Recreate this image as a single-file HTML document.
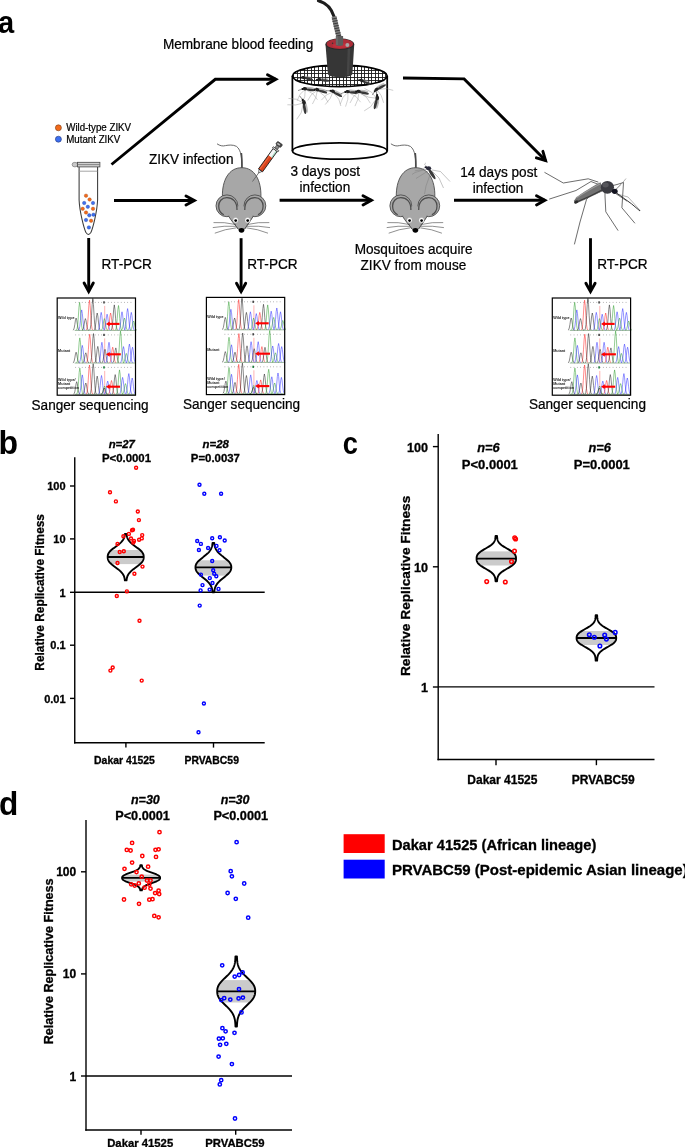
<!DOCTYPE html>
<html><head><meta charset="utf-8"><title>Figure</title>
<style>
html,body{margin:0;padding:0;background:#fff;overflow:hidden;}
svg{display:block;will-change:transform;}
text{font-family:"Liberation Sans", sans-serif;}
</style></head>
<body>
<svg width="685" height="1147" viewBox="0 0 685 1147">
<rect width="685" height="1147" fill="#fff"/>
<text transform="translate(-2.0,33.46) scale(0.9,1)" x="0" y="0" style="font-size:32.3px;font-weight:bold">a</text>
<text transform="translate(-1.4,454.0) scale(0.964,1)" x="0" y="0" style="font-size:33.2px;font-weight:bold">b</text>
<text transform="translate(342.8,453.9) scale(0.895,1)" x="0" y="0" style="font-size:30.5px;font-weight:bold">c</text>
<text transform="translate(-0.9,814.9) scale(0.93,1)" x="0" y="0" style="font-size:34.0px;font-weight:bold">d</text>
<defs><g id="chrom"><rect x="0" y="0" width="78.3" height="97.2" fill="#fff"/>
<line x1="17.5" y1="32.4" x2="78" y2="32.4" stroke="#8fb08f" stroke-width="0.9"/>
<rect x="18.15" y="3.90" width="0.7" height="1.0" fill="#999"/>
<rect x="21.40" y="3.90" width="0.7" height="1.0" fill="#999"/>
<rect x="24.65" y="3.90" width="0.7" height="1.0" fill="#999"/>
<rect x="27.90" y="3.90" width="0.7" height="1.0" fill="#999"/>
<rect x="31.15" y="3.90" width="0.7" height="1.0" fill="#999"/>
<rect x="34.40" y="3.90" width="0.7" height="1.0" fill="#999"/>
<rect x="37.65" y="3.90" width="0.7" height="1.0" fill="#999"/>
<rect x="40.90" y="3.90" width="0.7" height="1.0" fill="#999"/>
<rect x="44.15" y="3.90" width="0.7" height="1.0" fill="#999"/>
<rect x="47.40" y="3.90" width="0.7" height="1.0" fill="#999"/>
<rect x="50.65" y="3.90" width="0.7" height="1.0" fill="#999"/>
<rect x="53.90" y="3.90" width="0.7" height="1.0" fill="#999"/>
<rect x="57.15" y="3.90" width="0.7" height="1.0" fill="#999"/>
<rect x="60.40" y="3.90" width="0.7" height="1.0" fill="#999"/>
<rect x="63.65" y="3.90" width="0.7" height="1.0" fill="#999"/>
<rect x="66.90" y="3.90" width="0.7" height="1.0" fill="#999"/>
<rect x="70.15" y="3.90" width="0.7" height="1.0" fill="#999"/>
<rect x="73.40" y="3.90" width="0.7" height="1.0" fill="#999"/>
<rect x="46.0" y="3.30" width="1.6" height="2.2" fill="#444"/>
<line x1="47.5" y1="7.9" x2="47.5" y2="32.4" stroke="#ff8080" stroke-width="0.6"/>
<path d="M15.70,32.28 L16.34,31.77 L16.98,30.07 L17.62,26.50 L18.26,22.10 L18.90,20.00 L19.54,22.10 L20.18,26.50 L20.82,30.07 L21.46,31.77 L22.10,32.28" fill="none" stroke="#202020" stroke-width="0.7" stroke-opacity="0.75"/>
<path d="M19.20,32.13 L19.84,30.97 L20.48,27.14 L21.12,19.08 L21.76,9.15 L22.40,4.40 L23.04,9.15 L23.68,19.08 L24.32,27.14 L24.96,30.97 L25.60,32.13" fill="none" stroke="#30a030" stroke-width="0.7" stroke-opacity="0.75"/>
<path d="M21.30,32.20 L21.94,31.35 L22.58,28.55 L23.22,22.65 L23.86,15.38 L24.50,11.90 L25.14,15.38 L25.78,22.65 L26.42,28.55 L27.06,31.35 L27.70,32.20" fill="none" stroke="#3030ff" stroke-width="0.7" stroke-opacity="0.75"/>
<path d="M25.00,32.29 L25.64,31.80 L26.28,30.18 L26.92,26.79 L27.56,22.60 L28.20,20.60 L28.84,22.60 L29.48,26.79 L30.12,30.18 L30.76,31.80 L31.40,32.29" fill="none" stroke="#202020" stroke-width="0.7" stroke-opacity="0.75"/>
<path d="M29.10,32.11 L29.74,30.85 L30.38,26.73 L31.02,18.03 L31.66,7.32 L32.30,2.20 L32.94,7.32 L33.58,18.03 L34.22,26.73 L34.86,30.85 L35.50,32.11" fill="none" stroke="#ff2020" stroke-width="0.7" stroke-opacity="0.75"/>
<path d="M32.40,32.10 L33.04,30.81 L33.68,26.56 L34.32,17.61 L34.96,6.57 L35.60,1.30 L36.24,6.57 L36.88,17.61 L37.52,26.56 L38.16,30.81 L38.80,32.10" fill="none" stroke="#202020" stroke-width="0.7" stroke-opacity="0.75"/>
<path d="M36.80,32.23 L37.44,31.51 L38.08,29.13 L38.72,24.12 L39.36,17.95 L40.00,15.00 L40.64,17.95 L41.28,24.12 L41.92,29.13 L42.56,31.51 L43.20,32.23" fill="none" stroke="#202020" stroke-width="0.7" stroke-opacity="0.75"/>
<path d="M40.80,32.23 L41.44,31.48 L42.08,29.02 L42.72,23.84 L43.36,17.45 L44.00,14.40 L44.64,17.45 L45.28,23.84 L45.92,29.02 L46.56,31.48 L47.20,32.23" fill="none" stroke="#3030ff" stroke-width="0.7" stroke-opacity="0.75"/>
<path d="M44.00,32.29 L44.64,31.80 L45.28,30.18 L45.92,26.79 L46.56,22.60 L47.20,20.60 L47.84,22.60 L48.48,26.79 L49.12,30.18 L49.76,31.80 L50.40,32.29" fill="none" stroke="#30a030" stroke-width="0.7" stroke-opacity="0.75"/>
<path d="M46.70,32.24 L47.34,31.57 L47.98,29.36 L48.62,24.69 L49.26,18.95 L49.90,16.20 L50.54,18.95 L51.18,24.69 L51.82,29.36 L52.46,31.57 L53.10,32.24" fill="none" stroke="#3030ff" stroke-width="0.7" stroke-opacity="0.75"/>
<path d="M50.20,32.23 L50.84,31.51 L51.48,29.13 L52.12,24.12 L52.76,17.95 L53.40,15.00 L54.04,17.95 L54.68,24.12 L55.32,29.13 L55.96,31.51 L56.60,32.23" fill="none" stroke="#ff2020" stroke-width="0.7" stroke-opacity="0.75"/>
<path d="M53.90,32.15 L54.54,31.09 L55.18,27.61 L55.82,20.27 L56.46,11.22 L57.10,6.90 L57.74,11.22 L58.38,20.27 L59.02,27.61 L59.66,31.09 L60.30,32.15" fill="none" stroke="#202020" stroke-width="0.7" stroke-opacity="0.75"/>
<path d="M58.10,32.16 L58.74,31.13 L59.38,27.72 L60.02,20.56 L60.66,11.72 L61.30,7.50 L61.94,11.72 L62.58,20.56 L63.22,27.72 L63.86,31.13 L64.50,32.16" fill="none" stroke="#30a030" stroke-width="0.7" stroke-opacity="0.75"/>
<path d="M61.60,32.22 L62.24,31.45 L62.88,28.91 L63.52,23.55 L64.16,16.95 L64.80,13.80 L65.44,16.95 L66.08,23.55 L66.72,28.91 L67.36,31.45 L68.00,32.22" fill="none" stroke="#3030ff" stroke-width="0.7" stroke-opacity="0.75"/>
<path d="M64.10,32.28 L64.74,31.77 L65.38,30.07 L66.02,26.50 L66.66,22.10 L67.30,20.00 L67.94,22.10 L68.58,26.50 L69.22,30.07 L69.86,31.77 L70.50,32.28" fill="none" stroke="#30a030" stroke-width="0.7" stroke-opacity="0.75"/>
<path d="M67.20,32.19 L67.84,31.28 L68.48,28.30 L69.12,22.03 L69.76,14.30 L70.40,10.60 L71.04,14.30 L71.68,22.03 L72.32,28.30 L72.96,31.28 L73.60,32.19" fill="none" stroke="#3030ff" stroke-width="0.7" stroke-opacity="0.75"/>
<path d="M70.90,32.23 L71.54,31.48 L72.18,29.02 L72.82,23.84 L73.46,17.45 L74.10,14.40 L74.74,17.45 L75.38,23.84 L76.02,29.02 L76.66,31.48 L77.30,32.23" fill="none" stroke="#3030ff" stroke-width="0.7" stroke-opacity="0.75"/>
<path d="M73.20,32.31 L73.84,31.92 L74.48,30.63 L75.12,27.93 L75.76,24.59 L76.40,23.00 L77.04,24.59 L77.68,27.93 L78.32,30.63 L78.96,31.92 L79.60,32.31" fill="none" stroke="#30a030" stroke-width="0.7" stroke-opacity="0.75"/>
<line x1="51.7" y1="25.9" x2="62.3" y2="25.9" stroke="#ff0000" stroke-width="2.1"/>
<path d="M48.7,25.9 L52.5,23.5 L52.5,28.3 Z" fill="#ff0000"/>
<line x1="17.5" y1="65.0" x2="78" y2="65.0" stroke="#8fb08f" stroke-width="0.9"/>
<rect x="18.15" y="36.40" width="0.7" height="1.0" fill="#999"/>
<rect x="21.40" y="36.40" width="0.7" height="1.0" fill="#999"/>
<rect x="24.65" y="36.40" width="0.7" height="1.0" fill="#999"/>
<rect x="27.90" y="36.40" width="0.7" height="1.0" fill="#999"/>
<rect x="31.15" y="36.40" width="0.7" height="1.0" fill="#999"/>
<rect x="34.40" y="36.40" width="0.7" height="1.0" fill="#999"/>
<rect x="37.65" y="36.40" width="0.7" height="1.0" fill="#999"/>
<rect x="40.90" y="36.40" width="0.7" height="1.0" fill="#999"/>
<rect x="44.15" y="36.40" width="0.7" height="1.0" fill="#999"/>
<rect x="47.40" y="36.40" width="0.7" height="1.0" fill="#999"/>
<rect x="50.65" y="36.40" width="0.7" height="1.0" fill="#999"/>
<rect x="53.90" y="36.40" width="0.7" height="1.0" fill="#999"/>
<rect x="57.15" y="36.40" width="0.7" height="1.0" fill="#999"/>
<rect x="60.40" y="36.40" width="0.7" height="1.0" fill="#999"/>
<rect x="63.65" y="36.40" width="0.7" height="1.0" fill="#999"/>
<rect x="66.90" y="36.40" width="0.7" height="1.0" fill="#999"/>
<rect x="70.15" y="36.40" width="0.7" height="1.0" fill="#999"/>
<rect x="73.40" y="36.40" width="0.7" height="1.0" fill="#999"/>
<rect x="46.0" y="35.80" width="1.6" height="2.2" fill="#444"/>
<line x1="47.5" y1="40.4" x2="47.5" y2="65.0" stroke="#ff8080" stroke-width="0.6"/>
<path d="M15.70,64.90 L16.34,64.45 L16.98,62.97 L17.62,59.86 L18.26,56.03 L18.90,54.20 L19.54,56.03 L20.18,59.86 L20.82,62.97 L21.46,64.45 L22.10,64.90" fill="none" stroke="#202020" stroke-width="0.7" stroke-opacity="0.75"/>
<path d="M19.40,64.76 L20.04,63.72 L20.68,60.28 L21.32,53.06 L21.96,44.16 L22.60,39.90 L23.24,44.16 L23.88,53.06 L24.52,60.28 L25.16,63.72 L25.80,64.76" fill="none" stroke="#30a030" stroke-width="0.7" stroke-opacity="0.75"/>
<path d="M21.90,64.83 L22.54,64.10 L23.18,61.69 L23.82,56.63 L24.46,50.38 L25.10,47.40 L25.74,50.38 L26.38,56.63 L27.02,61.69 L27.66,64.10 L28.30,64.83" fill="none" stroke="#3030ff" stroke-width="0.7" stroke-opacity="0.75"/>
<path d="M25.40,64.90 L26.04,64.48 L26.68,63.08 L27.32,60.15 L27.96,56.53 L28.60,54.80 L29.24,56.53 L29.88,60.15 L30.52,63.08 L31.16,64.48 L31.80,64.90" fill="none" stroke="#202020" stroke-width="0.7" stroke-opacity="0.75"/>
<path d="M29.30,64.72 L29.94,63.53 L30.58,59.59 L31.22,51.30 L31.86,41.08 L32.50,36.20 L33.14,41.08 L33.78,51.30 L34.42,59.59 L35.06,63.53 L35.70,64.72" fill="none" stroke="#ff2020" stroke-width="0.7" stroke-opacity="0.75"/>
<path d="M33.10,64.72 L33.74,63.49 L34.38,59.48 L35.02,51.02 L35.66,40.58 L36.30,35.60 L36.94,40.58 L37.58,51.02 L38.22,59.48 L38.86,63.49 L39.50,64.72" fill="none" stroke="#202020" stroke-width="0.7" stroke-opacity="0.75"/>
<path d="M37.40,64.84 L38.04,64.15 L38.68,61.88 L39.32,57.10 L39.96,51.21 L40.60,48.40 L41.24,51.21 L41.88,57.10 L42.52,61.88 L43.16,64.15 L43.80,64.84" fill="none" stroke="#202020" stroke-width="0.7" stroke-opacity="0.75"/>
<path d="M41.50,64.80 L42.14,63.94 L42.78,61.11 L43.42,55.15 L44.06,47.81 L44.70,44.30 L45.34,47.81 L45.98,55.15 L46.62,61.11 L47.26,63.94 L47.90,64.80" fill="none" stroke="#3030ff" stroke-width="0.7" stroke-opacity="0.75"/>
<path d="M44.60,64.87 L45.24,64.30 L45.88,62.43 L46.52,58.48 L47.16,53.62 L47.80,51.30 L48.44,53.62 L49.08,58.48 L49.72,62.43 L50.36,64.30 L51.00,64.87" fill="none" stroke="#202020" stroke-width="0.7" stroke-opacity="0.75"/>
<path d="M48.60,64.80 L49.24,63.94 L49.88,61.11 L50.52,55.15 L51.16,47.81 L51.80,44.30 L52.44,47.81 L53.08,55.15 L53.72,61.11 L54.36,63.94 L55.00,64.80" fill="none" stroke="#3030ff" stroke-width="0.7" stroke-opacity="0.75"/>
<path d="M52.30,64.85 L52.94,64.19 L53.58,62.03 L54.22,57.48 L54.86,51.88 L55.50,49.20 L56.14,51.88 L56.78,57.48 L57.42,62.03 L58.06,64.19 L58.70,64.85" fill="none" stroke="#ff2020" stroke-width="0.7" stroke-opacity="0.75"/>
<path d="M55.40,64.85 L56.04,64.23 L56.68,62.16 L57.32,57.82 L57.96,52.46 L58.60,49.90 L59.24,52.46 L59.88,57.82 L60.52,62.16 L61.16,64.23 L61.80,64.85" fill="none" stroke="#202020" stroke-width="0.7" stroke-opacity="0.75"/>
<path d="M60.10,64.69 L60.74,63.37 L61.38,59.01 L62.02,49.83 L62.66,38.51 L63.30,33.10 L63.94,38.51 L64.58,49.83 L65.22,59.01 L65.86,63.37 L66.50,64.69" fill="none" stroke="#30a030" stroke-width="0.7" stroke-opacity="0.75"/>
<path d="M63.10,64.84 L63.74,64.16 L64.38,61.92 L65.02,57.20 L65.66,51.38 L66.30,48.60 L66.94,51.38 L67.58,57.20 L68.22,61.92 L68.86,64.16 L69.50,64.84" fill="none" stroke="#3030ff" stroke-width="0.7" stroke-opacity="0.75"/>
<path d="M65.90,64.91 L66.54,64.51 L67.18,63.20 L67.82,60.43 L68.46,57.03 L69.10,55.40 L69.74,57.03 L70.38,60.43 L71.02,63.20 L71.66,64.51 L72.30,64.91" fill="none" stroke="#30a030" stroke-width="0.7" stroke-opacity="0.75"/>
<path d="M69.00,64.82 L69.64,64.03 L70.28,61.45 L70.92,56.01 L71.56,49.30 L72.20,46.10 L72.84,49.30 L73.48,56.01 L74.12,61.45 L74.76,64.03 L75.40,64.82" fill="none" stroke="#3030ff" stroke-width="0.7" stroke-opacity="0.75"/>
<path d="M72.10,64.85 L72.74,64.19 L73.38,62.03 L74.02,57.48 L74.66,51.88 L75.30,49.20 L75.94,51.88 L76.58,57.48 L77.22,62.03 L77.86,64.19 L78.50,64.85" fill="none" stroke="#3030ff" stroke-width="0.7" stroke-opacity="0.75"/>
<line x1="51.7" y1="56.3" x2="63.6" y2="56.3" stroke="#ff0000" stroke-width="2.1"/>
<path d="M48.7,56.3 L52.5,53.9 L52.5,58.7 Z" fill="#ff0000"/>
<line x1="17.5" y1="96.3" x2="78" y2="96.3" stroke="#8fb08f" stroke-width="0.9"/>
<rect x="18.15" y="68.90" width="0.7" height="1.0" fill="#999"/>
<rect x="21.40" y="68.90" width="0.7" height="1.0" fill="#999"/>
<rect x="24.65" y="68.90" width="0.7" height="1.0" fill="#999"/>
<rect x="27.90" y="68.90" width="0.7" height="1.0" fill="#999"/>
<rect x="31.15" y="68.90" width="0.7" height="1.0" fill="#999"/>
<rect x="34.40" y="68.90" width="0.7" height="1.0" fill="#999"/>
<rect x="37.65" y="68.90" width="0.7" height="1.0" fill="#999"/>
<rect x="40.90" y="68.90" width="0.7" height="1.0" fill="#999"/>
<rect x="44.15" y="68.90" width="0.7" height="1.0" fill="#999"/>
<rect x="47.40" y="68.90" width="0.7" height="1.0" fill="#999"/>
<rect x="50.65" y="68.90" width="0.7" height="1.0" fill="#999"/>
<rect x="53.90" y="68.90" width="0.7" height="1.0" fill="#999"/>
<rect x="57.15" y="68.90" width="0.7" height="1.0" fill="#999"/>
<rect x="60.40" y="68.90" width="0.7" height="1.0" fill="#999"/>
<rect x="63.65" y="68.90" width="0.7" height="1.0" fill="#999"/>
<rect x="66.90" y="68.90" width="0.7" height="1.0" fill="#999"/>
<rect x="70.15" y="68.90" width="0.7" height="1.0" fill="#999"/>
<rect x="73.40" y="68.90" width="0.7" height="1.0" fill="#999"/>
<rect x="46.0" y="68.30" width="1.6" height="2.2" fill="#1a7a3a"/>
<line x1="47.5" y1="72.9" x2="47.5" y2="96.3" stroke="#ff8080" stroke-width="0.6"/>
<path d="M16.30,96.18 L16.94,95.65 L17.58,93.93 L18.22,90.31 L18.86,85.84 L19.50,83.70 L20.14,85.84 L20.78,90.31 L21.42,93.93 L22.06,95.65 L22.70,96.18" fill="none" stroke="#202020" stroke-width="0.7" stroke-opacity="0.75"/>
<path d="M19.40,96.05 L20.04,94.96 L20.68,91.38 L21.32,83.84 L21.96,74.54 L22.60,70.10 L23.24,74.54 L23.88,83.84 L24.52,91.38 L25.16,94.96 L25.80,96.05" fill="none" stroke="#30a030" stroke-width="0.7" stroke-opacity="0.75"/>
<path d="M21.90,96.11 L22.54,95.31 L23.18,92.65 L23.82,87.07 L24.46,80.19 L25.10,76.90 L25.74,80.19 L26.38,87.07 L27.02,92.65 L27.66,95.31 L28.30,96.11" fill="none" stroke="#3030ff" stroke-width="0.7" stroke-opacity="0.75"/>
<path d="M25.40,96.19 L26.04,95.72 L26.68,94.18 L27.32,90.92 L27.96,86.92 L28.60,85.00 L29.24,86.92 L29.88,90.92 L30.52,94.18 L31.16,95.72 L31.80,96.19" fill="none" stroke="#202020" stroke-width="0.7" stroke-opacity="0.75"/>
<path d="M29.10,96.02 L29.74,94.80 L30.38,90.79 L31.02,82.36 L31.66,71.97 L32.30,67.00 L32.94,71.97 L33.58,82.36 L34.22,90.79 L34.86,94.80 L35.50,96.02" fill="none" stroke="#ff2020" stroke-width="0.7" stroke-opacity="0.75"/>
<path d="M32.80,96.01 L33.44,94.73 L34.08,90.55 L34.72,81.74 L35.36,70.89 L36.00,65.70 L36.64,70.89 L37.28,81.74 L37.92,90.55 L38.56,94.73 L39.20,96.01" fill="none" stroke="#202020" stroke-width="0.7" stroke-opacity="0.75"/>
<path d="M36.80,96.12 L37.44,95.37 L38.08,92.88 L38.72,87.64 L39.36,81.19 L40.00,78.10 L40.64,81.19 L41.28,87.64 L41.92,92.88 L42.56,95.37 L43.20,96.12" fill="none" stroke="#202020" stroke-width="0.7" stroke-opacity="0.75"/>
<path d="M41.10,96.12 L41.74,95.34 L42.38,92.77 L43.02,87.36 L43.66,80.69 L44.30,77.50 L44.94,80.69 L45.58,87.36 L46.22,92.77 L46.86,95.34 L47.50,96.12" fill="none" stroke="#3030ff" stroke-width="0.7" stroke-opacity="0.75"/>
<path d="M44.20,96.22 L44.84,95.88 L45.48,94.74 L46.12,92.35 L46.76,89.41 L47.40,88.00 L48.04,89.41 L48.68,92.35 L49.32,94.74 L49.96,95.88 L50.60,96.22" fill="none" stroke="#30a030" stroke-width="0.7" stroke-opacity="0.75"/>
<path d="M43.80,96.24 L44.44,95.98 L45.08,95.12 L45.72,93.30 L46.36,91.07 L47.00,90.00 L47.64,91.07 L48.28,93.30 L48.92,95.12 L49.56,95.98 L50.20,96.24" fill="none" stroke="#202020" stroke-width="0.7" stroke-opacity="0.75"/>
<path d="M47.30,96.17 L47.94,95.62 L48.58,93.82 L49.22,90.02 L49.86,85.34 L50.50,83.10 L51.14,85.34 L51.78,90.02 L52.42,93.82 L53.06,95.62 L53.70,96.17" fill="none" stroke="#3030ff" stroke-width="0.7" stroke-opacity="0.75"/>
<path d="M51.10,96.17 L51.74,95.59 L52.38,93.71 L53.02,89.74 L53.66,84.84 L54.30,82.50 L54.94,84.84 L55.58,89.74 L56.22,93.71 L56.86,95.59 L57.50,96.17" fill="none" stroke="#ff2020" stroke-width="0.7" stroke-opacity="0.75"/>
<path d="M54.80,96.11 L55.44,95.29 L56.08,92.60 L56.72,86.93 L57.36,79.94 L58.00,76.60 L58.64,79.94 L59.28,86.93 L59.92,92.60 L60.56,95.29 L61.20,96.11" fill="none" stroke="#202020" stroke-width="0.7" stroke-opacity="0.75"/>
<path d="M59.10,96.07 L59.74,95.05 L60.38,91.72 L61.02,84.69 L61.66,76.04 L62.30,71.90 L62.94,76.04 L63.58,84.69 L64.22,91.72 L64.86,95.05 L65.50,96.07" fill="none" stroke="#30a030" stroke-width="0.7" stroke-opacity="0.75"/>
<path d="M62.20,96.14 L62.84,95.43 L63.48,93.12 L64.12,88.26 L64.76,82.27 L65.40,79.40 L66.04,82.27 L66.68,88.26 L67.32,93.12 L67.96,95.43 L68.60,96.14" fill="none" stroke="#3030ff" stroke-width="0.7" stroke-opacity="0.75"/>
<path d="M65.10,96.20 L65.74,95.75 L66.38,94.29 L67.02,91.21 L67.66,87.41 L68.30,85.60 L68.94,87.41 L69.58,91.21 L70.22,94.29 L70.86,95.75 L71.50,96.20" fill="none" stroke="#30a030" stroke-width="0.7" stroke-opacity="0.75"/>
<path d="M68.40,96.10 L69.04,95.24 L69.68,92.41 L70.32,86.45 L70.96,79.11 L71.60,75.60 L72.24,79.11 L72.88,86.45 L73.52,92.41 L74.16,95.24 L74.80,96.10" fill="none" stroke="#3030ff" stroke-width="0.7" stroke-opacity="0.75"/>
<path d="M71.80,96.14 L72.44,95.47 L73.08,93.24 L73.72,88.55 L74.36,82.76 L75.00,80.00 L75.64,82.76 L76.28,88.55 L76.92,93.24 L77.56,95.47 L78.20,96.14" fill="none" stroke="#3030ff" stroke-width="0.7" stroke-opacity="0.75"/>
<line x1="51.7" y1="88.7" x2="62.9" y2="88.7" stroke="#ff0000" stroke-width="2.1"/>
<path d="M48.7,88.7 L52.5,86.3 L52.5,91.1 Z" fill="#ff0000"/>
<g style="font-family:&quot;Liberation Sans&quot;, sans-serif;font-size:3.7px;font-weight:bold" fill="#222">
<text x="0.9" y="21">Wild type</text>
<text x="0.9" y="53.6">Mutant</text>
<text x="0.9" y="83">Wild type/</text>
<text x="0.9" y="86.9">Mutant</text>
<text x="0.9" y="90.8">competition</text>
</g>
<line x1="35.6" y1="0" x2="35.6" y2="4" stroke="#555" stroke-width="0.8"/>
<rect x="0" y="0" width="78.3" height="97.2" fill="none" stroke="#000" stroke-width="1.2"/></g></defs>
<use href="#chrom" transform="translate(57.2,298.0)"/>
<use href="#chrom" transform="translate(206.4,297.4)"/>
<use href="#chrom" transform="translate(552.3,298.0)"/>
<clipPath id="cagetop"><ellipse cx="339.8" cy="75.9" rx="47.4" ry="10.7"/></clipPath>
<g clip-path="url(#cagetop)" stroke="#1a1a1a" stroke-width="0.9" shape-rendering="crispEdges">
<line x1="293.6" y1="65.2" x2="293.6" y2="86.60000000000001"/>
<line x1="297.2" y1="65.2" x2="297.2" y2="86.60000000000001"/>
<line x1="300.7" y1="65.2" x2="300.7" y2="86.60000000000001"/>
<line x1="304.3" y1="65.2" x2="304.3" y2="86.60000000000001"/>
<line x1="307.8" y1="65.2" x2="307.8" y2="86.60000000000001"/>
<line x1="311.4" y1="65.2" x2="311.4" y2="86.60000000000001"/>
<line x1="314.9" y1="65.2" x2="314.9" y2="86.60000000000001"/>
<line x1="318.5" y1="65.2" x2="318.5" y2="86.60000000000001"/>
<line x1="322.0" y1="65.2" x2="322.0" y2="86.60000000000001"/>
<line x1="325.6" y1="65.2" x2="325.6" y2="86.60000000000001"/>
<line x1="329.1" y1="65.2" x2="329.1" y2="86.60000000000001"/>
<line x1="332.7" y1="65.2" x2="332.7" y2="86.60000000000001"/>
<line x1="336.2" y1="65.2" x2="336.2" y2="86.60000000000001"/>
<line x1="339.8" y1="65.2" x2="339.8" y2="86.60000000000001"/>
<line x1="343.3" y1="65.2" x2="343.3" y2="86.60000000000001"/>
<line x1="346.9" y1="65.2" x2="346.9" y2="86.60000000000001"/>
<line x1="350.4" y1="65.2" x2="350.4" y2="86.60000000000001"/>
<line x1="354.0" y1="65.2" x2="354.0" y2="86.60000000000001"/>
<line x1="357.5" y1="65.2" x2="357.5" y2="86.60000000000001"/>
<line x1="361.1" y1="65.2" x2="361.1" y2="86.60000000000001"/>
<line x1="364.6" y1="65.2" x2="364.6" y2="86.60000000000001"/>
<line x1="368.2" y1="65.2" x2="368.2" y2="86.60000000000001"/>
<line x1="371.7" y1="65.2" x2="371.7" y2="86.60000000000001"/>
<line x1="375.3" y1="65.2" x2="375.3" y2="86.60000000000001"/>
<line x1="378.8" y1="65.2" x2="378.8" y2="86.60000000000001"/>
<line x1="382.4" y1="65.2" x2="382.4" y2="86.60000000000001"/>
<line x1="385.9" y1="65.2" x2="385.9" y2="86.60000000000001"/>
<line x1="292.40000000000003" y1="66.8" x2="387.2" y2="66.8"/>
<line x1="292.40000000000003" y1="70.2" x2="387.2" y2="70.2"/>
<line x1="292.40000000000003" y1="73.7" x2="387.2" y2="73.7"/>
<line x1="292.40000000000003" y1="77.2" x2="387.2" y2="77.2"/>
<line x1="292.40000000000003" y1="80.6" x2="387.2" y2="80.6"/>
<line x1="292.40000000000003" y1="84.1" x2="387.2" y2="84.1"/>
</g>
<ellipse cx="339.8" cy="75.9" rx="47.4" ry="10.7" fill="none" stroke="#000" stroke-width="1.7"/>
<line x1="292.40000000000003" y1="75.9" x2="292.40000000000003" y2="151" stroke="#000" stroke-width="1.75"/>
<line x1="387.2" y1="75.9" x2="387.2" y2="151" stroke="#000" stroke-width="1.8"/>
<ellipse cx="339.8" cy="151" rx="47.4" ry="8.2" fill="none" stroke="#000" stroke-width="1.8"/>
<g transform="translate(306,78.2) rotate(10) scale(0.95)">
<ellipse cx="2.2" cy="-1.6" rx="4.6" ry="1.0" fill="#888" opacity="0.55"/>
<ellipse cx="2.8" cy="0.2" rx="4.8" ry="1.25" fill="#383838"/>
<ellipse cx="-2.9" cy="-0.2" rx="2.2" ry="1.7" fill="#222"/>
<circle cx="-5.4" cy="0.5" r="1.0" fill="#111"/>
<path d="M-6.2,0.9 L-9.5,2.6" stroke="#333" stroke-width="0.5"/>
</g>
<g transform="translate(322,80) rotate(6) scale(0.95)">
<ellipse cx="2.2" cy="-1.6" rx="4.6" ry="1.0" fill="#888" opacity="0.55"/>
<ellipse cx="2.8" cy="0.2" rx="4.8" ry="1.25" fill="#383838"/>
<ellipse cx="-2.9" cy="-0.2" rx="2.2" ry="1.7" fill="#222"/>
<circle cx="-5.4" cy="0.5" r="1.0" fill="#111"/>
<path d="M-6.2,0.9 L-9.5,2.6" stroke="#333" stroke-width="0.5"/>
</g>
<g transform="translate(364,81.6) rotate(22) scale(0.95)">
<ellipse cx="2.2" cy="-1.6" rx="4.6" ry="1.0" fill="#888" opacity="0.55"/>
<ellipse cx="2.8" cy="0.2" rx="4.8" ry="1.25" fill="#383838"/>
<ellipse cx="-2.9" cy="-0.2" rx="2.2" ry="1.7" fill="#222"/>
<circle cx="-5.4" cy="0.5" r="1.0" fill="#111"/>
<path d="M-6.2,0.9 L-9.5,2.6" stroke="#333" stroke-width="0.5"/>
</g>
<g transform="translate(307.8,89.3) rotate(8) scale(1.0)">
<g stroke="#999" stroke-width="0.42" fill="none">
<path d="M-3,1 L-7,6 L-9,13"/>
<path d="M-2.5,1.2 L-2,7.5 L-3.5,15"/>
<path d="M-1.5,0.8 L6,4 L11,9"/>
</g>
<ellipse cx="2.2" cy="-1.6" rx="4.6" ry="1.0" fill="#888" opacity="0.55"/>
<ellipse cx="2.8" cy="0.2" rx="4.8" ry="1.25" fill="#383838"/>
<ellipse cx="-2.9" cy="-0.2" rx="2.2" ry="1.7" fill="#222"/>
<circle cx="-5.4" cy="0.5" r="1.0" fill="#111"/>
<path d="M-6.2,0.9 L-9.5,2.6" stroke="#333" stroke-width="0.5"/>
</g>
<g transform="translate(319.9,90.6) rotate(16) scale(1.0)">
<g stroke="#999" stroke-width="0.42" fill="none">
<path d="M-3,1 L-7,6 L-9,13"/>
<path d="M-2.5,1.2 L-2,7.5 L-3.5,15"/>
<path d="M-1.5,0.8 L6,4 L11,9"/>
</g>
<ellipse cx="2.2" cy="-1.6" rx="4.6" ry="1.0" fill="#888" opacity="0.55"/>
<ellipse cx="2.8" cy="0.2" rx="4.8" ry="1.25" fill="#383838"/>
<ellipse cx="-2.9" cy="-0.2" rx="2.2" ry="1.7" fill="#222"/>
<circle cx="-5.4" cy="0.5" r="1.0" fill="#111"/>
<path d="M-6.2,0.9 L-9.5,2.6" stroke="#333" stroke-width="0.5"/>
</g>
<g transform="translate(335.4,92.9) rotate(28) scale(1.0)">
<g stroke="#999" stroke-width="0.42" fill="none">
<path d="M-3,1 L-7,6 L-9,13"/>
<path d="M-2.5,1.2 L-2,7.5 L-3.5,15"/>
<path d="M-1.5,0.8 L6,4 L11,9"/>
</g>
<ellipse cx="2.2" cy="-1.6" rx="4.6" ry="1.0" fill="#888" opacity="0.55"/>
<ellipse cx="2.8" cy="0.2" rx="4.8" ry="1.25" fill="#383838"/>
<ellipse cx="-2.9" cy="-0.2" rx="2.2" ry="1.7" fill="#222"/>
<circle cx="-5.4" cy="0.5" r="1.0" fill="#111"/>
<path d="M-6.2,0.9 L-9.5,2.6" stroke="#333" stroke-width="0.5"/>
</g>
<g transform="translate(350.6,92.1) rotate(6) scale(1.0)">
<g stroke="#999" stroke-width="0.42" fill="none">
<path d="M-3,1 L-7,6 L-9,13"/>
<path d="M-2.5,1.2 L-2,7.5 L-3.5,15"/>
<path d="M-1.5,0.8 L6,4 L11,9"/>
</g>
<ellipse cx="2.2" cy="-1.6" rx="4.6" ry="1.0" fill="#888" opacity="0.55"/>
<ellipse cx="2.8" cy="0.2" rx="4.8" ry="1.25" fill="#383838"/>
<ellipse cx="-2.9" cy="-0.2" rx="2.2" ry="1.7" fill="#222"/>
<circle cx="-5.4" cy="0.5" r="1.0" fill="#111"/>
<path d="M-6.2,0.9 L-9.5,2.6" stroke="#333" stroke-width="0.5"/>
</g>
<g transform="translate(361.5,92.2) rotate(12) scale(1.0)">
<g stroke="#999" stroke-width="0.42" fill="none">
<path d="M-3,1 L-7,6 L-9,13"/>
<path d="M-2.5,1.2 L-2,7.5 L-3.5,15"/>
<path d="M-1.5,0.8 L6,4 L11,9"/>
</g>
<ellipse cx="2.2" cy="-1.6" rx="4.6" ry="1.0" fill="#888" opacity="0.55"/>
<ellipse cx="2.8" cy="0.2" rx="4.8" ry="1.25" fill="#383838"/>
<ellipse cx="-2.9" cy="-0.2" rx="2.2" ry="1.7" fill="#222"/>
<circle cx="-5.4" cy="0.5" r="1.0" fill="#111"/>
<path d="M-6.2,0.9 L-9.5,2.6" stroke="#333" stroke-width="0.5"/>
</g>
<g transform="translate(379.2,88.1) rotate(-30) scale(1.0)">
<g stroke="#999" stroke-width="0.42" fill="none">
<path d="M-3,1 L-7,6 L-9,13"/>
<path d="M-2.5,1.2 L-2,7.5 L-3.5,15"/>
<path d="M-1.5,0.8 L6,4 L11,9"/>
</g>
<ellipse cx="2.2" cy="-1.6" rx="4.6" ry="1.0" fill="#888" opacity="0.55"/>
<ellipse cx="2.8" cy="0.2" rx="4.8" ry="1.25" fill="#383838"/>
<ellipse cx="-2.9" cy="-0.2" rx="2.2" ry="1.7" fill="#222"/>
<circle cx="-5.4" cy="0.5" r="1.0" fill="#111"/>
<path d="M-6.2,0.9 L-9.5,2.6" stroke="#333" stroke-width="0.5"/>
</g>
<g transform="translate(304.3,105.7) rotate(80) scale(1.1)">
<g stroke="#999" stroke-width="0.42" fill="none">
<path d="M-3,1 L-7,6 L-9,13"/>
<path d="M-2.5,1.2 L-2,7.5 L-3.5,15"/>
<path d="M-1.5,0.8 L6,4 L11,9"/>
</g>
<ellipse cx="2.2" cy="-1.6" rx="4.6" ry="1.0" fill="#888" opacity="0.55"/>
<ellipse cx="2.8" cy="0.2" rx="4.8" ry="1.25" fill="#383838"/>
<ellipse cx="-2.9" cy="-0.2" rx="2.2" ry="1.7" fill="#222"/>
<circle cx="-5.4" cy="0.5" r="1.0" fill="#111"/>
<path d="M-6.2,0.9 L-9.5,2.6" stroke="#333" stroke-width="0.5"/>
</g>
<g transform="translate(376.4,101.1) rotate(102) scale(1.1)">
<g stroke="#999" stroke-width="0.42" fill="none">
<path d="M-3,1 L-7,6 L-9,13"/>
<path d="M-2.5,1.2 L-2,7.5 L-3.5,15"/>
<path d="M-1.5,0.8 L6,4 L11,9"/>
</g>
<ellipse cx="2.2" cy="-1.6" rx="4.6" ry="1.0" fill="#888" opacity="0.55"/>
<ellipse cx="2.8" cy="0.2" rx="4.8" ry="1.25" fill="#383838"/>
<ellipse cx="-2.9" cy="-0.2" rx="2.2" ry="1.7" fill="#222"/>
<circle cx="-5.4" cy="0.5" r="1.0" fill="#111"/>
<path d="M-6.2,0.9 L-9.5,2.6" stroke="#333" stroke-width="0.5"/>
</g>
<path d="M318.4,0.8 C325,2.4 331.2,7.5 334.0,16.5" fill="none" stroke="#1e1e1e" stroke-width="3.0" stroke-linecap="round"/>
<path d="M334.0,16.5 L336.6,28 L339.0,37" fill="none" stroke="#7d7d7d" stroke-width="5.0"/>
<line x1="331.9" y1="19.1" x2="336.9" y2="18.1" stroke="#333" stroke-width="0.9"/>
<line x1="332.5" y1="21.5" x2="337.5" y2="20.5" stroke="#333" stroke-width="0.9"/>
<line x1="333.1" y1="24.0" x2="338.1" y2="23.0" stroke="#333" stroke-width="0.9"/>
<line x1="333.7" y1="26.4" x2="338.7" y2="25.4" stroke="#333" stroke-width="0.9"/>
<line x1="334.3" y1="28.8" x2="339.3" y2="27.8" stroke="#333" stroke-width="0.9"/>
<line x1="334.9" y1="31.2" x2="339.9" y2="30.2" stroke="#333" stroke-width="0.9"/>
<line x1="335.5" y1="33.7" x2="340.5" y2="32.7" stroke="#333" stroke-width="0.9"/>
<line x1="336.1" y1="36.1" x2="341.1" y2="35.1" stroke="#333" stroke-width="0.9"/>
<path d="M325.5,44.5 L327.9,74 C329,78.4 351.2,78.4 352.4,74 L354.2,44.5 Z" fill="#363636"/>
<path d="M349,47 L348,75" stroke="#464646" stroke-width="2.5"/>
<ellipse cx="339.85" cy="44.2" rx="14.35" ry="5.9" fill="#2a2a2a"/>
<ellipse cx="339.85" cy="43.9" rx="13.2" ry="5.0" fill="#ad2d38"/>
<ellipse cx="340.5" cy="45.5" rx="8" ry="2.6" fill="#c0303c"/>
<circle cx="347.4" cy="44.9" r="2.0" fill="#a8a8a8"/>
<circle cx="332.6" cy="43.3" r="0.7" fill="#333"/>
<path d="M335.8,36 L343.1,36 L343.1,45.3 C341,46.2 337.9,46.2 335.8,45.3 Z" fill="#5c5c5c"/>
<path d="M337,36.5 L337,45" stroke="#777" stroke-width="1"/>
<path d="M79.1,167 L79.1,200 C79.6,212 84,228 85.8,232.2 Q88.4,236.6 91.0,232.2 C92.8,228 97.1,212 97.6,200 L97.6,167" fill="#fff" stroke="#3a3a3a" stroke-width="1.05"/>
<line x1="79.3" y1="171.2" x2="97.4" y2="171.2" stroke="#9a9a9a" stroke-width="0.9"/>
<ellipse cx="74.9" cy="164.6" rx="2.8" ry="2.3" fill="#c8c8c8" stroke="#6a6a6a" stroke-width="0.6"/>
<rect x="77.4" y="162.3" width="22.5" height="4.6" fill="#d0d0d0" stroke="#444" stroke-width="0.8"/>
<line x1="77.6" y1="164.6" x2="99.7" y2="164.6" stroke="#666" stroke-width="0.7"/>
<circle cx="86.0" cy="195.7" r="1.75" fill="#f26a1b" stroke="#9a4010" stroke-width="0.35"/>
<circle cx="89.6" cy="199.5" r="1.75" fill="#f26a1b" stroke="#9a4010" stroke-width="0.35"/>
<circle cx="82.7" cy="208.8" r="1.75" fill="#f26a1b" stroke="#9a4010" stroke-width="0.35"/>
<circle cx="93.0" cy="208.8" r="1.75" fill="#f26a1b" stroke="#9a4010" stroke-width="0.35"/>
<circle cx="86.0" cy="212.5" r="1.75" fill="#f26a1b" stroke="#9a4010" stroke-width="0.35"/>
<circle cx="91.1" cy="220.8" r="1.75" fill="#f26a1b" stroke="#9a4010" stroke-width="0.35"/>
<circle cx="84.2" cy="203" r="1.75" fill="#3d6ff0" stroke="#203a90" stroke-width="0.35"/>
<circle cx="93.0" cy="203" r="1.75" fill="#3d6ff0" stroke="#203a90" stroke-width="0.35"/>
<circle cx="87.8" cy="206.8" r="1.75" fill="#3d6ff0" stroke="#203a90" stroke-width="0.35"/>
<circle cx="89.3" cy="215.3" r="1.75" fill="#3d6ff0" stroke="#203a90" stroke-width="0.35"/>
<circle cx="93.5" cy="214.7" r="1.75" fill="#3d6ff0" stroke="#203a90" stroke-width="0.35"/>
<circle cx="86.0" cy="220" r="1.75" fill="#3d6ff0" stroke="#203a90" stroke-width="0.35"/>
<circle cx="88.9" cy="227.4" r="1.75" fill="#3d6ff0" stroke="#203a90" stroke-width="0.35"/>
<g transform="translate(0,0)">
<path d="M241.9,168.5 C242,160 241.6,150 236.5,146.4 C233,144.5 228.5,145 225.5,145.6 C222.5,146.4 220,145.8 217,143.8" fill="none" stroke="#5a5a5a" stroke-width="0.9"/>
<path d="M241.9,168.5 C242,162 241.8,157 241.3,153" fill="none" stroke="#4a4a4a" stroke-width="1.7"/>
<path d="M241.7,167.7 C254.5,167.7 261.4,180 260.9,197 L254,214 C251,219.5 247.2,225 244.6,229 Q241.4,232.5 238.2,229 C235.6,225 231.8,219.5 229,214 L222.4,197 C222,180 229,167.7 241.7,167.7 Z" fill="#a7a7a7" stroke="#4d4d4d" stroke-width="0.9"/>
<circle cx="226.9" cy="205.8" r="10.9" fill="#a7a7a7" stroke="#4d4d4d" stroke-width="0.9"/>
<circle cx="254.9" cy="205.8" r="10.9" fill="#a7a7a7" stroke="#4d4d4d" stroke-width="0.9"/>
<path d="M228.6,216.2 L236.6,206.5 L245.2,206.5 L253.2,216.2 C250.6,221 247,225.5 244.6,229 Q241.4,232.5 238.2,229 C235.8,225.5 231.2,221 228.6,216.2 Z" fill="#a7a7a7"/>
<path d="M228.4,215.9 C231.2,220.8 235.8,225.5 238.2,229" fill="none" stroke="#4d4d4d" stroke-width="0.9"/>
<path d="M253.4,215.9 C250.6,220.8 247,225.5 244.6,229" fill="none" stroke="#4d4d4d" stroke-width="0.9"/>
<path d="M237.0,210 C237.2,201.5 232.5,197.6 226.9,197.6 C221.5,197.6 218.7,201.8 218.7,206 C218.7,210.5 220.8,213.3 223.8,214.8" fill="none" stroke="#4d4d4d" stroke-width="1.25"/>
<path d="M244.8,210 C244.6,201.5 249.3,197.6 254.9,197.6 C260.3,197.6 263.1,201.8 263.1,206 C263.1,210.5 261,213.3 258,214.8" fill="none" stroke="#4d4d4d" stroke-width="1.25"/>
<circle cx="235.6" cy="220.2" r="2.6" fill="#fff" stroke="#888" stroke-width="0.3"/>
<circle cx="235.7" cy="220.6" r="1.4" fill="#000"/>
<circle cx="247.6" cy="220.2" r="2.6" fill="#fff" stroke="#888" stroke-width="0.3"/>
<circle cx="247.7" cy="220.6" r="1.4" fill="#000"/>
<path d="M236,224.6 Q224,221.8 213.5,222.6" fill="none" stroke="#444" stroke-width="0.6"/>
<path d="M236,226.3 Q224,225.6 212.8,227.6" fill="none" stroke="#444" stroke-width="0.6"/>
<path d="M236.5,227.8 Q225,229 214.8,233.2" fill="none" stroke="#444" stroke-width="0.6"/>
<path d="M246.8,224.6 Q258.8,221.8 269.3,222.6" fill="none" stroke="#444" stroke-width="0.6"/>
<path d="M246.8,226.3 Q258.8,225.6 270,227.6" fill="none" stroke="#444" stroke-width="0.6"/>
<path d="M246.3,227.8 Q257.8,229 268,233.2" fill="none" stroke="#444" stroke-width="0.6"/>
<ellipse cx="241.5" cy="230.3" rx="2.8" ry="2.4" fill="#000"/>
</g>
<g transform="translate(252.5,181.5) rotate(-54.3)">
<line x1="0" y1="0" x2="11" y2="0" stroke="#555" stroke-width="0.7"/>
<path d="M10.5,0 L13.8,-1.9 L13.8,1.9 Z" fill="#f2f2f2" stroke="#333" stroke-width="0.6"/>
<rect x="13.8" y="-2.5" width="17" height="5" fill="#d9411a"/>
<rect x="13.8" y="-1.7" width="16.8" height="1.2" fill="#f07048" opacity="0.8"/>
<rect x="30.8" y="-2.5" width="8" height="5" fill="#f6f6f6"/>
<rect x="30.8" y="1.0" width="8" height="1.3" fill="#a8dcc4"/>
<rect x="13.8" y="-2.5" width="25" height="5" fill="none" stroke="#222" stroke-width="0.85"/>
<rect x="38.8" y="-3.4" width="1.6" height="6.8" fill="#ddd" stroke="#222" stroke-width="0.6"/>
<rect x="40.4" y="-1.6" width="3.6" height="3.2" fill="#888" stroke="#222" stroke-width="0.5"/>
<rect x="44" y="-3.0" width="3.4" height="6.0" rx="0.8" fill="#4a4a4a" stroke="#222" stroke-width="0.6"/>
<rect x="44.6" y="-2.0" width="1.6" height="3.0" fill="#bbb"/>
</g>
<g transform="translate(173.9,0)">
<path d="M241.9,168.5 C242,160 241.6,150 236.5,146.4 C233,144.5 228.5,145 225.5,145.6 C222.5,146.4 220,145.8 217,143.8" fill="none" stroke="#5a5a5a" stroke-width="0.9"/>
<path d="M241.9,168.5 C242,162 241.8,157 241.3,153" fill="none" stroke="#4a4a4a" stroke-width="1.7"/>
<path d="M241.7,167.7 C254.5,167.7 261.4,180 260.9,197 L254,214 C251,219.5 247.2,225 244.6,229 Q241.4,232.5 238.2,229 C235.6,225 231.8,219.5 229,214 L222.4,197 C222,180 229,167.7 241.7,167.7 Z" fill="#a7a7a7" stroke="#4d4d4d" stroke-width="0.9"/>
<circle cx="226.9" cy="205.8" r="10.9" fill="#a7a7a7" stroke="#4d4d4d" stroke-width="0.9"/>
<circle cx="254.9" cy="205.8" r="10.9" fill="#a7a7a7" stroke="#4d4d4d" stroke-width="0.9"/>
<path d="M228.6,216.2 L236.6,206.5 L245.2,206.5 L253.2,216.2 C250.6,221 247,225.5 244.6,229 Q241.4,232.5 238.2,229 C235.8,225.5 231.2,221 228.6,216.2 Z" fill="#a7a7a7"/>
<path d="M228.4,215.9 C231.2,220.8 235.8,225.5 238.2,229" fill="none" stroke="#4d4d4d" stroke-width="0.9"/>
<path d="M253.4,215.9 C250.6,220.8 247,225.5 244.6,229" fill="none" stroke="#4d4d4d" stroke-width="0.9"/>
<path d="M237.0,210 C237.2,201.5 232.5,197.6 226.9,197.6 C221.5,197.6 218.7,201.8 218.7,206 C218.7,210.5 220.8,213.3 223.8,214.8" fill="none" stroke="#4d4d4d" stroke-width="1.25"/>
<path d="M244.8,210 C244.6,201.5 249.3,197.6 254.9,197.6 C260.3,197.6 263.1,201.8 263.1,206 C263.1,210.5 261,213.3 258,214.8" fill="none" stroke="#4d4d4d" stroke-width="1.25"/>
<circle cx="235.6" cy="220.2" r="2.6" fill="#fff" stroke="#888" stroke-width="0.3"/>
<circle cx="235.7" cy="220.6" r="1.4" fill="#000"/>
<circle cx="247.6" cy="220.2" r="2.6" fill="#fff" stroke="#888" stroke-width="0.3"/>
<circle cx="247.7" cy="220.6" r="1.4" fill="#000"/>
<path d="M236,224.6 Q224,221.8 213.5,222.6" fill="none" stroke="#444" stroke-width="0.6"/>
<path d="M236,226.3 Q224,225.6 212.8,227.6" fill="none" stroke="#444" stroke-width="0.6"/>
<path d="M236.5,227.8 Q225,229 214.8,233.2" fill="none" stroke="#444" stroke-width="0.6"/>
<path d="M246.8,224.6 Q258.8,221.8 269.3,222.6" fill="none" stroke="#444" stroke-width="0.6"/>
<path d="M246.8,226.3 Q258.8,225.6 270,227.6" fill="none" stroke="#444" stroke-width="0.6"/>
<path d="M246.3,227.8 Q257.8,229 268,233.2" fill="none" stroke="#444" stroke-width="0.6"/>
<ellipse cx="241.5" cy="230.3" rx="2.8" ry="2.4" fill="#000"/>
</g>
<g stroke="#7a7a7a" stroke-width="0.45" fill="none">
<path d="M428,168 L424.5,164.2 L426,162.8"/>
<path d="M428.5,168.5 L415,172.5 L412,174.5"/>
<path d="M429.5,170 L416,178.5"/>
<path d="M431,172 L426,186 L424.5,194"/>
<path d="M432,170 L440.5,171.5 L450,181.5"/>
<path d="M432.5,171.5 L439,178 L443.5,188"/>
<path d="M427,166.5 L420.5,170 L414.8,170.8"/>
</g>
<ellipse cx="432" cy="174" rx="1.6" ry="6.2" transform="rotate(-32 432 174)" fill="#3a3a3a"/>
<ellipse cx="428.6" cy="168.3" rx="2.6" ry="2.0" fill="#2a2a3a"/>
<ellipse cx="425.8" cy="167.2" rx="1.2" ry="1.0" fill="#1a1a2a"/>
<g stroke="#2e2e2e" stroke-width="0.7" fill="none" stroke-linejoin="round" stroke-linecap="round">
<path d="M598,182 L588.2,178.8 L563.3,183 L544.8,172.5"/>
<path d="M600,185 L591,181.5 L576,190.5 L549.6,199"/>
<path d="M602,191 L590,196 L586.5,199.5 L580,222 L574.5,244"/>
<path d="M605,192.5 L605,196 L605.8,211.8 L617.9,230.3"/>
<path d="M611,186 L617,184.5 L623.5,182.5 L621.9,207.8 L634.7,223"/>
</g>
<g stroke="#6a6a6a" stroke-width="0.5" fill="none">
<path d="M617,194 L628,197 L640.4,210.7"/>
<path d="M616,189.5 L624,181 L626,178.5"/>
<path d="M615,190 L621,184.5"/>
</g>
<path d="M574.3,200.2 C577.5,195.5 589,188.5 600.5,182.3 L603.5,190.5 C593,196 582.5,201 576.5,203.3 C574.8,203.8 573.8,202 574.3,200.2 Z" fill="#727272"/>
<path d="M576,197.8 C584,193 592,188 600,184" stroke="#9a9a9a" stroke-width="1.2" fill="none"/>
<path d="M575.5,202.6 C583,199.5 593,195 602,190" stroke="#3a3a3a" stroke-width="1.1" fill="none"/>
<ellipse cx="576.2" cy="202" rx="2.2" ry="1.5" transform="rotate(-28 576.2 202)" fill="#2a2a2a"/>
<ellipse cx="607.4" cy="187.3" rx="6.6" ry="6.4" fill="#3a3a40"/>
<ellipse cx="605.5" cy="185" rx="3.2" ry="2.4" fill="#55555a"/>
<ellipse cx="614.8" cy="191.3" rx="2.9" ry="2.6" fill="#141420"/>
<path d="M616.5,193 L631.5,203.8 L640,211" stroke="#1e1e1e" stroke-width="0.9" fill="none"/>
<path d="M616,193.8 L627,201.2" stroke="#333" stroke-width="0.6"/>
<polyline points="111.5,164.5 215.3,79.3 275.9,79.3" fill="none" stroke="#000" stroke-width="2.9" stroke-linejoin="miter"/>
<polyline points="267.5,74.7 275.9,79.3 267.5,83.9" fill="none" stroke="#000" stroke-width="2.9" stroke-linecap="round" stroke-linejoin="miter"/>
<polyline points="403.0,78.0 464.1,78.9 545.6,160.5" fill="none" stroke="#000" stroke-width="2.9" stroke-linejoin="miter"/>
<polyline points="542.9,151.3 545.6,160.5 536.4,157.8" fill="none" stroke="#000" stroke-width="2.9" stroke-linecap="round" stroke-linejoin="miter"/>
<polyline points="114.0,200.5 194.4,200.5" fill="none" stroke="#000" stroke-width="2.9" stroke-linejoin="miter"/>
<polyline points="186.0,195.9 194.4,200.5 186.0,205.1" fill="none" stroke="#000" stroke-width="2.9" stroke-linecap="round" stroke-linejoin="miter"/>
<polyline points="279.6,200.3 371.4,200.3" fill="none" stroke="#000" stroke-width="2.9" stroke-linejoin="miter"/>
<polyline points="363.0,195.7 371.4,200.3 363.0,204.9" fill="none" stroke="#000" stroke-width="2.9" stroke-linecap="round" stroke-linejoin="miter"/>
<polyline points="454.0,200.3 544.9,200.3" fill="none" stroke="#000" stroke-width="2.9" stroke-linejoin="miter"/>
<polyline points="536.5,195.7 544.9,200.3 536.5,204.9" fill="none" stroke="#000" stroke-width="2.9" stroke-linecap="round" stroke-linejoin="miter"/>
<polyline points="88.7,238.0 88.7,291.4" fill="none" stroke="#000" stroke-width="2.9" stroke-linejoin="miter"/>
<polyline points="93.3,283.0 88.7,291.4 84.1,283.0" fill="none" stroke="#000" stroke-width="2.9" stroke-linecap="round" stroke-linejoin="miter"/>
<polyline points="241.1,238.2 241.1,291.6" fill="none" stroke="#000" stroke-width="2.9" stroke-linejoin="miter"/>
<polyline points="245.7,283.2 241.1,291.6 236.5,283.2" fill="none" stroke="#000" stroke-width="2.9" stroke-linecap="round" stroke-linejoin="miter"/>
<polyline points="590.5,238.2 590.5,291.6" fill="none" stroke="#000" stroke-width="2.9" stroke-linejoin="miter"/>
<polyline points="595.1,283.2 590.5,291.6 585.9,283.2" fill="none" stroke="#000" stroke-width="2.9" stroke-linecap="round" stroke-linejoin="miter"/>
<text transform="translate(238.05,48.6) scale(1,1.08)" x="0" y="0" text-anchor="middle" style="font-size:13.6px;stroke:#000;stroke-width:0.22px;" fill="#000" >Membrane blood feeding</text>
<text transform="translate(191.2,164.2) scale(1,1.08)" x="0" y="0" text-anchor="middle" style="font-size:13.6px;stroke:#000;stroke-width:0.22px;" fill="#000" >ZIKV infection</text>
<text transform="translate(325.2,175.8) scale(1,1.08)" x="0" y="0" text-anchor="middle" style="font-size:13.6px;stroke:#000;stroke-width:0.22px;" fill="#000" >3 days post</text>
<text transform="translate(324.9,191.9) scale(1,1.08)" x="0" y="0" text-anchor="middle" style="font-size:13.6px;stroke:#000;stroke-width:0.22px;" fill="#000" >infection</text>
<text transform="translate(498.7,177.4) scale(1,1.08)" x="0" y="0" text-anchor="middle" style="font-size:13.6px;stroke:#000;stroke-width:0.22px;" fill="#000" >14 days post</text>
<text transform="translate(498.0,193.3) scale(1,1.08)" x="0" y="0" text-anchor="middle" style="font-size:13.6px;stroke:#000;stroke-width:0.22px;" fill="#000" >infection</text>
<text transform="translate(413.6,253.7) scale(1,1.08)" x="0" y="0" text-anchor="middle" style="font-size:13.6px;stroke:#000;stroke-width:0.22px;" fill="#000" >Mosquitoes acquire</text>
<text transform="translate(413.4,269.9) scale(1,1.08)" x="0" y="0" text-anchor="middle" style="font-size:13.6px;stroke:#000;stroke-width:0.22px;" fill="#000" >ZIKV from mouse</text>
<text transform="translate(126.7,269.4) scale(1,1.08)" x="0" y="0" text-anchor="middle" style="font-size:13.6px;stroke:#000;stroke-width:0.22px;" fill="#000" >RT-PCR</text>
<text transform="translate(272.4,268.8) scale(1,1.08)" x="0" y="0" text-anchor="middle" style="font-size:13.6px;stroke:#000;stroke-width:0.22px;" fill="#000" >RT-PCR</text>
<text transform="translate(622.4,268.8) scale(1,1.08)" x="0" y="0" text-anchor="middle" style="font-size:13.6px;stroke:#000;stroke-width:0.22px;" fill="#000" >RT-PCR</text>
<text transform="translate(90.1,409.8) scale(1,1.08)" x="0" y="0" text-anchor="middle" style="font-size:13.6px;stroke:#000;stroke-width:0.22px;" fill="#000" >Sanger sequencing</text>
<text transform="translate(241.55,408.8) scale(1,1.08)" x="0" y="0" text-anchor="middle" style="font-size:13.6px;stroke:#000;stroke-width:0.22px;" fill="#000" >Sanger sequencing</text>
<text transform="translate(587.45,408.8) scale(1,1.08)" x="0" y="0" text-anchor="middle" style="font-size:13.6px;stroke:#000;stroke-width:0.22px;" fill="#000" >Sanger sequencing</text>
<circle cx="58.4" cy="127.8" r="3.0" fill="#f26a1b" stroke="#7a3a10" stroke-width="0.6"/>
<circle cx="58.4" cy="139.2" r="3.0" fill="#3d6ff0" stroke="#22357a" stroke-width="0.6"/>
<text transform="translate(66.2,131.1) scale(1,1.08)" x="0" y="0" text-anchor="start" style="font-size:9.75px;stroke:#000;stroke-width:0.22px;" fill="#000" >Wild-type ZIKV</text>
<text transform="translate(66.2,142.7) scale(1,1.08)" x="0" y="0" text-anchor="start" style="font-size:9.75px;stroke:#000;stroke-width:0.22px;" fill="#000" >Mutant ZIKV</text>
<line x1="74.75" y1="457.2" x2="74.75" y2="743.4" stroke="#000" stroke-width="1.4" stroke-linecap="butt"/>
<line x1="74.05" y1="742.7" x2="264.7" y2="742.7" stroke="#000" stroke-width="1.4" stroke-linecap="butt"/>
<line x1="74.75" y1="592.3" x2="264.7" y2="592.3" stroke="#000" stroke-width="1.4" stroke-linecap="butt"/>
<line x1="70" y1="486.0" x2="74.75" y2="486.0" stroke="#000" stroke-width="1.4" stroke-linecap="butt"/>
<text x="65.6" y="490.2" text-anchor="end" style="font-size:11px;font-weight:bold;stroke:#000;stroke-width:0.3px;" fill="#000" >100</text>
<line x1="70" y1="538.9" x2="74.75" y2="538.9" stroke="#000" stroke-width="1.4" stroke-linecap="butt"/>
<text x="65.6" y="543.1" text-anchor="end" style="font-size:11px;font-weight:bold;stroke:#000;stroke-width:0.3px;" fill="#000" >10</text>
<line x1="70" y1="592.3" x2="74.75" y2="592.3" stroke="#000" stroke-width="1.4" stroke-linecap="butt"/>
<text x="65.6" y="596.5" text-anchor="end" style="font-size:11px;font-weight:bold;stroke:#000;stroke-width:0.3px;" fill="#000" >1</text>
<line x1="70" y1="645.2" x2="74.75" y2="645.2" stroke="#000" stroke-width="1.4" stroke-linecap="butt"/>
<text x="65.6" y="649.4000000000001" text-anchor="end" style="font-size:11px;font-weight:bold;stroke:#000;stroke-width:0.3px;" fill="#000" >0.1</text>
<line x1="70" y1="698.4" x2="74.75" y2="698.4" stroke="#000" stroke-width="1.4" stroke-linecap="butt"/>
<text x="65.6" y="702.6" text-anchor="end" style="font-size:11px;font-weight:bold;stroke:#000;stroke-width:0.3px;" fill="#000" >0.01</text>
<line x1="125.9" y1="742.7" x2="125.9" y2="747.6" stroke="#000" stroke-width="1.4" stroke-linecap="butt"/>
<line x1="213.5" y1="742.7" x2="213.5" y2="747.6" stroke="#000" stroke-width="1.4" stroke-linecap="butt"/>
<text x="124.45" y="763.8" text-anchor="middle" style="font-size:10.4px;font-weight:bold;stroke:#000;stroke-width:0.3px;" fill="#000" >Dakar 41525</text>
<text x="211.7" y="763.7" text-anchor="middle" style="font-size:10.4px;font-weight:bold;stroke:#000;stroke-width:0.3px;" fill="#000" >PRVABC59</text>
<text x="121.8" y="447.7" text-anchor="middle" style="font-size:11.4px;font-weight:bold;stroke:#000;stroke-width:0.3px;font-style:italic;" fill="#000" >n=27</text>
<text x="126.45" y="462.0" text-anchor="middle" style="font-size:11.4px;font-weight:bold;stroke:#000;stroke-width:0.3px;" fill="#000" >P&lt;0.0001</text>
<text x="215.75" y="447.7" text-anchor="middle" style="font-size:11.4px;font-weight:bold;stroke:#000;stroke-width:0.3px;font-style:italic;" fill="#000" >n=28</text>
<text x="215.4" y="462.0" text-anchor="middle" style="font-size:11.4px;font-weight:bold;stroke:#000;stroke-width:0.3px;" fill="#000" >P=0.0037</text>
<text transform="translate(44.0,592.35) rotate(-90)" text-anchor="middle" style="font-size:11.9px;font-weight:bold;stroke:#000;stroke-width:0.3px">Relative Replicative Fitness</text>
<clipPath id="vb1"><path d="M126.54,534.00 L126.60,534.48 L126.66,534.96 L126.74,535.44 L126.83,535.92 L126.93,536.40 L127.06,536.88 L127.20,537.35 L127.37,537.83 L127.56,538.31 L127.78,538.79 L128.03,539.27 L128.30,539.75 L128.61,540.23 L128.95,540.71 L129.33,541.19 L129.74,541.67 L130.18,542.15 L130.65,542.62 L131.16,543.10 L131.70,543.58 L132.26,544.06 L132.85,544.54 L133.46,545.02 L134.09,545.50 L134.74,545.98 L135.39,546.46 L136.05,546.94 L136.71,547.42 L137.36,547.90 L138.00,548.38 L138.62,548.85 L139.22,549.33 L139.80,549.81 L140.34,550.29 L140.85,550.77 L141.32,551.25 L141.75,551.73 L142.14,552.21 L142.48,552.69 L142.78,553.17 L143.03,553.65 L143.24,554.12 L143.40,554.60 L143.53,555.08 L143.61,555.56 L143.67,556.04 L143.69,556.52 L143.70,557.00 L143.69,557.49 L143.67,557.97 L143.61,558.46 L143.53,558.94 L143.40,559.43 L143.24,559.91 L143.03,560.40 L142.78,560.88 L142.48,561.37 L142.14,561.85 L141.75,562.34 L141.32,562.83 L140.85,563.31 L140.34,563.80 L139.80,564.28 L139.22,564.77 L138.62,565.25 L138.00,565.74 L137.36,566.22 L136.71,566.71 L136.05,567.19 L135.39,567.68 L134.74,568.16 L134.09,568.65 L133.46,569.14 L132.85,569.62 L132.26,570.11 L131.70,570.59 L131.16,571.08 L130.65,571.56 L130.18,572.05 L129.74,572.53 L129.33,573.02 L128.95,573.50 L128.61,573.99 L128.30,574.47 L128.03,574.96 L127.78,575.45 L127.56,575.93 L127.37,576.42 L127.20,576.90 L127.06,577.39 L126.93,577.87 L126.83,578.36 L126.74,578.84 L126.66,579.33 L126.60,579.81 L126.54,580.30 L124.86,580.30 L124.80,579.81 L124.74,579.33 L124.66,578.84 L124.57,578.36 L124.47,577.87 L124.34,577.39 L124.20,576.90 L124.03,576.42 L123.84,575.93 L123.62,575.45 L123.37,574.96 L123.10,574.47 L122.79,573.99 L122.45,573.50 L122.07,573.02 L121.66,572.53 L121.22,572.05 L120.75,571.56 L120.24,571.08 L119.70,570.59 L119.14,570.11 L118.55,569.62 L117.94,569.14 L117.31,568.65 L116.66,568.16 L116.01,567.68 L115.35,567.19 L114.69,566.71 L114.04,566.22 L113.40,565.74 L112.78,565.25 L112.18,564.77 L111.60,564.28 L111.06,563.80 L110.55,563.31 L110.08,562.83 L109.65,562.34 L109.26,561.85 L108.92,561.37 L108.62,560.88 L108.37,560.40 L108.16,559.91 L108.00,559.43 L107.87,558.94 L107.79,558.46 L107.73,557.97 L107.71,557.49 L107.70,557.00 L107.71,556.52 L107.73,556.04 L107.79,555.56 L107.87,555.08 L108.00,554.60 L108.16,554.12 L108.37,553.65 L108.62,553.17 L108.92,552.69 L109.26,552.21 L109.65,551.73 L110.08,551.25 L110.55,550.77 L111.06,550.29 L111.60,549.81 L112.18,549.33 L112.78,548.85 L113.40,548.38 L114.04,547.90 L114.69,547.42 L115.35,546.94 L116.01,546.46 L116.66,545.98 L117.31,545.50 L117.94,545.02 L118.55,544.54 L119.14,544.06 L119.70,543.58 L120.24,543.10 L120.75,542.62 L121.22,542.15 L121.66,541.67 L122.07,541.19 L122.45,540.71 L122.79,540.23 L123.10,539.75 L123.37,539.27 L123.62,538.79 L123.84,538.31 L124.03,537.83 L124.20,537.35 L124.34,536.88 L124.47,536.40 L124.57,535.92 L124.66,535.44 L124.74,534.96 L124.80,534.48 L124.86,534.00 Z"/></clipPath>
<rect x="105.7" y="550.0" width="40.0" height="14.100000000000023" fill="#cbcbcb" clip-path="url(#vb1)"/>
<path d="M126.54,534.00 L126.60,534.48 L126.66,534.96 L126.74,535.44 L126.83,535.92 L126.93,536.40 L127.06,536.88 L127.20,537.35 L127.37,537.83 L127.56,538.31 L127.78,538.79 L128.03,539.27 L128.30,539.75 L128.61,540.23 L128.95,540.71 L129.33,541.19 L129.74,541.67 L130.18,542.15 L130.65,542.62 L131.16,543.10 L131.70,543.58 L132.26,544.06 L132.85,544.54 L133.46,545.02 L134.09,545.50 L134.74,545.98 L135.39,546.46 L136.05,546.94 L136.71,547.42 L137.36,547.90 L138.00,548.38 L138.62,548.85 L139.22,549.33 L139.80,549.81 L140.34,550.29 L140.85,550.77 L141.32,551.25 L141.75,551.73 L142.14,552.21 L142.48,552.69 L142.78,553.17 L143.03,553.65 L143.24,554.12 L143.40,554.60 L143.53,555.08 L143.61,555.56 L143.67,556.04 L143.69,556.52 L143.70,557.00 L143.69,557.49 L143.67,557.97 L143.61,558.46 L143.53,558.94 L143.40,559.43 L143.24,559.91 L143.03,560.40 L142.78,560.88 L142.48,561.37 L142.14,561.85 L141.75,562.34 L141.32,562.83 L140.85,563.31 L140.34,563.80 L139.80,564.28 L139.22,564.77 L138.62,565.25 L138.00,565.74 L137.36,566.22 L136.71,566.71 L136.05,567.19 L135.39,567.68 L134.74,568.16 L134.09,568.65 L133.46,569.14 L132.85,569.62 L132.26,570.11 L131.70,570.59 L131.16,571.08 L130.65,571.56 L130.18,572.05 L129.74,572.53 L129.33,573.02 L128.95,573.50 L128.61,573.99 L128.30,574.47 L128.03,574.96 L127.78,575.45 L127.56,575.93 L127.37,576.42 L127.20,576.90 L127.06,577.39 L126.93,577.87 L126.83,578.36 L126.74,578.84 L126.66,579.33 L126.60,579.81 L126.54,580.30 L124.86,580.30 L124.80,579.81 L124.74,579.33 L124.66,578.84 L124.57,578.36 L124.47,577.87 L124.34,577.39 L124.20,576.90 L124.03,576.42 L123.84,575.93 L123.62,575.45 L123.37,574.96 L123.10,574.47 L122.79,573.99 L122.45,573.50 L122.07,573.02 L121.66,572.53 L121.22,572.05 L120.75,571.56 L120.24,571.08 L119.70,570.59 L119.14,570.11 L118.55,569.62 L117.94,569.14 L117.31,568.65 L116.66,568.16 L116.01,567.68 L115.35,567.19 L114.69,566.71 L114.04,566.22 L113.40,565.74 L112.78,565.25 L112.18,564.77 L111.60,564.28 L111.06,563.80 L110.55,563.31 L110.08,562.83 L109.65,562.34 L109.26,561.85 L108.92,561.37 L108.62,560.88 L108.37,560.40 L108.16,559.91 L108.00,559.43 L107.87,558.94 L107.79,558.46 L107.73,557.97 L107.71,557.49 L107.70,557.00 L107.71,556.52 L107.73,556.04 L107.79,555.56 L107.87,555.08 L108.00,554.60 L108.16,554.12 L108.37,553.65 L108.62,553.17 L108.92,552.69 L109.26,552.21 L109.65,551.73 L110.08,551.25 L110.55,550.77 L111.06,550.29 L111.60,549.81 L112.18,549.33 L112.78,548.85 L113.40,548.38 L114.04,547.90 L114.69,547.42 L115.35,546.94 L116.01,546.46 L116.66,545.98 L117.31,545.50 L117.94,545.02 L118.55,544.54 L119.14,544.06 L119.70,543.58 L120.24,543.10 L120.75,542.62 L121.22,542.15 L121.66,541.67 L122.07,541.19 L122.45,540.71 L122.79,540.23 L123.10,539.75 L123.37,539.27 L123.62,538.79 L123.84,538.31 L124.03,537.83 L124.20,537.35 L124.34,536.88 L124.47,536.40 L124.57,535.92 L124.66,535.44 L124.74,534.96 L124.80,534.48 L124.86,534.00 Z" fill="none" stroke="#000" stroke-width="1.9" stroke-linejoin="round"/>
<line x1="107.7" y1="557.0" x2="143.7" y2="557.0" stroke="#000" stroke-width="1.8" stroke-linecap="butt"/>
<clipPath id="vb2"><path d="M214.24,542.90 L214.29,543.41 L214.35,543.92 L214.42,544.42 L214.50,544.93 L214.59,545.44 L214.71,545.95 L214.83,546.46 L214.98,546.97 L215.15,547.48 L215.35,547.98 L215.57,548.49 L215.81,549.00 L216.08,549.51 L216.39,550.02 L216.72,550.52 L217.08,551.03 L217.48,551.54 L217.91,552.05 L218.37,552.56 L218.86,553.07 L219.38,553.57 L219.93,554.08 L220.50,554.59 L221.10,555.10 L221.71,555.61 L222.34,556.12 L222.98,556.62 L223.63,557.13 L224.27,557.64 L224.92,558.15 L225.56,558.66 L226.18,559.17 L226.78,559.67 L227.36,560.18 L227.92,560.69 L228.43,561.20 L228.92,561.71 L229.36,562.22 L229.76,562.72 L230.11,563.23 L230.42,563.74 L230.68,564.25 L230.89,564.76 L231.05,565.27 L231.17,565.77 L231.25,566.28 L231.29,566.79 L231.30,567.30 L231.29,567.82 L231.25,568.34 L231.17,568.86 L231.05,569.38 L230.89,569.89 L230.68,570.41 L230.42,570.93 L230.11,571.45 L229.76,571.97 L229.36,572.49 L228.92,573.01 L228.43,573.52 L227.92,574.04 L227.36,574.56 L226.78,575.08 L226.18,575.60 L225.56,576.12 L224.92,576.64 L224.27,577.16 L223.63,577.67 L222.98,578.19 L222.34,578.71 L221.71,579.23 L221.10,579.75 L220.50,580.27 L219.93,580.79 L219.38,581.31 L218.86,581.83 L218.37,582.34 L217.91,582.86 L217.48,583.38 L217.08,583.90 L216.72,584.42 L216.39,584.94 L216.08,585.46 L215.81,585.98 L215.57,586.49 L215.35,587.01 L215.15,587.53 L214.98,588.05 L214.83,588.57 L214.71,589.09 L214.59,589.61 L214.50,590.12 L214.42,590.64 L214.35,591.16 L214.29,591.68 L214.24,592.20 L212.56,592.20 L212.51,591.68 L212.45,591.16 L212.38,590.64 L212.30,590.12 L212.21,589.61 L212.09,589.09 L211.97,588.57 L211.82,588.05 L211.65,587.53 L211.45,587.01 L211.23,586.49 L210.99,585.98 L210.72,585.46 L210.41,584.94 L210.08,584.42 L209.72,583.90 L209.32,583.38 L208.89,582.86 L208.43,582.34 L207.94,581.83 L207.42,581.31 L206.87,580.79 L206.30,580.27 L205.70,579.75 L205.09,579.23 L204.46,578.71 L203.82,578.19 L203.17,577.67 L202.53,577.16 L201.88,576.64 L201.24,576.12 L200.62,575.60 L200.02,575.08 L199.44,574.56 L198.88,574.04 L198.37,573.52 L197.88,573.01 L197.44,572.49 L197.04,571.97 L196.69,571.45 L196.38,570.93 L196.12,570.41 L195.91,569.89 L195.75,569.38 L195.63,568.86 L195.55,568.34 L195.51,567.82 L195.50,567.30 L195.51,566.79 L195.55,566.28 L195.63,565.77 L195.75,565.27 L195.91,564.76 L196.12,564.25 L196.38,563.74 L196.69,563.23 L197.04,562.72 L197.44,562.22 L197.88,561.71 L198.37,561.20 L198.88,560.69 L199.44,560.18 L200.02,559.67 L200.62,559.17 L201.24,558.66 L201.88,558.15 L202.53,557.64 L203.17,557.13 L203.82,556.62 L204.46,556.12 L205.09,555.61 L205.70,555.10 L206.30,554.59 L206.87,554.08 L207.42,553.57 L207.94,553.07 L208.43,552.56 L208.89,552.05 L209.32,551.54 L209.72,551.03 L210.08,550.52 L210.41,550.02 L210.72,549.51 L210.99,549.00 L211.23,548.49 L211.45,547.98 L211.65,547.48 L211.82,546.97 L211.97,546.46 L212.09,545.95 L212.21,545.44 L212.30,544.93 L212.38,544.42 L212.45,543.92 L212.51,543.41 L212.56,542.90 Z"/></clipPath>
<rect x="193.5" y="560.3" width="39.8" height="15.300000000000068" fill="#cbcbcb" clip-path="url(#vb2)"/>
<path d="M214.24,542.90 L214.29,543.41 L214.35,543.92 L214.42,544.42 L214.50,544.93 L214.59,545.44 L214.71,545.95 L214.83,546.46 L214.98,546.97 L215.15,547.48 L215.35,547.98 L215.57,548.49 L215.81,549.00 L216.08,549.51 L216.39,550.02 L216.72,550.52 L217.08,551.03 L217.48,551.54 L217.91,552.05 L218.37,552.56 L218.86,553.07 L219.38,553.57 L219.93,554.08 L220.50,554.59 L221.10,555.10 L221.71,555.61 L222.34,556.12 L222.98,556.62 L223.63,557.13 L224.27,557.64 L224.92,558.15 L225.56,558.66 L226.18,559.17 L226.78,559.67 L227.36,560.18 L227.92,560.69 L228.43,561.20 L228.92,561.71 L229.36,562.22 L229.76,562.72 L230.11,563.23 L230.42,563.74 L230.68,564.25 L230.89,564.76 L231.05,565.27 L231.17,565.77 L231.25,566.28 L231.29,566.79 L231.30,567.30 L231.29,567.82 L231.25,568.34 L231.17,568.86 L231.05,569.38 L230.89,569.89 L230.68,570.41 L230.42,570.93 L230.11,571.45 L229.76,571.97 L229.36,572.49 L228.92,573.01 L228.43,573.52 L227.92,574.04 L227.36,574.56 L226.78,575.08 L226.18,575.60 L225.56,576.12 L224.92,576.64 L224.27,577.16 L223.63,577.67 L222.98,578.19 L222.34,578.71 L221.71,579.23 L221.10,579.75 L220.50,580.27 L219.93,580.79 L219.38,581.31 L218.86,581.83 L218.37,582.34 L217.91,582.86 L217.48,583.38 L217.08,583.90 L216.72,584.42 L216.39,584.94 L216.08,585.46 L215.81,585.98 L215.57,586.49 L215.35,587.01 L215.15,587.53 L214.98,588.05 L214.83,588.57 L214.71,589.09 L214.59,589.61 L214.50,590.12 L214.42,590.64 L214.35,591.16 L214.29,591.68 L214.24,592.20 L212.56,592.20 L212.51,591.68 L212.45,591.16 L212.38,590.64 L212.30,590.12 L212.21,589.61 L212.09,589.09 L211.97,588.57 L211.82,588.05 L211.65,587.53 L211.45,587.01 L211.23,586.49 L210.99,585.98 L210.72,585.46 L210.41,584.94 L210.08,584.42 L209.72,583.90 L209.32,583.38 L208.89,582.86 L208.43,582.34 L207.94,581.83 L207.42,581.31 L206.87,580.79 L206.30,580.27 L205.70,579.75 L205.09,579.23 L204.46,578.71 L203.82,578.19 L203.17,577.67 L202.53,577.16 L201.88,576.64 L201.24,576.12 L200.62,575.60 L200.02,575.08 L199.44,574.56 L198.88,574.04 L198.37,573.52 L197.88,573.01 L197.44,572.49 L197.04,571.97 L196.69,571.45 L196.38,570.93 L196.12,570.41 L195.91,569.89 L195.75,569.38 L195.63,568.86 L195.55,568.34 L195.51,567.82 L195.50,567.30 L195.51,566.79 L195.55,566.28 L195.63,565.77 L195.75,565.27 L195.91,564.76 L196.12,564.25 L196.38,563.74 L196.69,563.23 L197.04,562.72 L197.44,562.22 L197.88,561.71 L198.37,561.20 L198.88,560.69 L199.44,560.18 L200.02,559.67 L200.62,559.17 L201.24,558.66 L201.88,558.15 L202.53,557.64 L203.17,557.13 L203.82,556.62 L204.46,556.12 L205.09,555.61 L205.70,555.10 L206.30,554.59 L206.87,554.08 L207.42,553.57 L207.94,553.07 L208.43,552.56 L208.89,552.05 L209.32,551.54 L209.72,551.03 L210.08,550.52 L210.41,550.02 L210.72,549.51 L210.99,549.00 L211.23,548.49 L211.45,547.98 L211.65,547.48 L211.82,546.97 L211.97,546.46 L212.09,545.95 L212.21,545.44 L212.30,544.93 L212.38,544.42 L212.45,543.92 L212.51,543.41 L212.56,542.90 Z" fill="none" stroke="#000" stroke-width="1.9" stroke-linejoin="round"/>
<line x1="195.5" y1="567.3" x2="231.3" y2="567.3" stroke="#000" stroke-width="1.8" stroke-linecap="butt"/>
<circle cx="136.1" cy="467.8" r="1.5" fill="none" stroke="#ff0000" stroke-width="1.4"/>
<circle cx="110.0" cy="492.2" r="1.5" fill="none" stroke="#ff0000" stroke-width="1.4"/>
<circle cx="115.9" cy="501.4" r="1.5" fill="none" stroke="#ff0000" stroke-width="1.4"/>
<circle cx="137.8" cy="511.5" r="1.5" fill="none" stroke="#ff0000" stroke-width="1.4"/>
<circle cx="138.9" cy="520.1" r="1.5" fill="none" stroke="#ff0000" stroke-width="1.4"/>
<circle cx="133.0" cy="529.8" r="1.5" fill="none" stroke="#ff0000" stroke-width="1.4"/>
<circle cx="132.0" cy="530.3" r="1.5" fill="none" stroke="#ff0000" stroke-width="1.4"/>
<circle cx="128.9" cy="533.9" r="1.5" fill="none" stroke="#ff0000" stroke-width="1.4"/>
<circle cx="123.4" cy="536.2" r="1.5" fill="none" stroke="#ff0000" stroke-width="1.4"/>
<circle cx="142.2" cy="535.1" r="1.5" fill="none" stroke="#ff0000" stroke-width="1.4"/>
<circle cx="141.8" cy="538.4" r="1.5" fill="none" stroke="#ff0000" stroke-width="1.4"/>
<circle cx="139.1" cy="539.7" r="1.5" fill="none" stroke="#ff0000" stroke-width="1.4"/>
<circle cx="131.0" cy="538.5" r="1.5" fill="none" stroke="#ff0000" stroke-width="1.4"/>
<circle cx="134.0" cy="541.0" r="1.5" fill="none" stroke="#ff0000" stroke-width="1.4"/>
<circle cx="133.3" cy="542.6" r="1.5" fill="none" stroke="#ff0000" stroke-width="1.4"/>
<circle cx="117.5" cy="544.0" r="1.5" fill="none" stroke="#ff0000" stroke-width="1.4"/>
<circle cx="119.7" cy="552.0" r="1.5" fill="none" stroke="#ff0000" stroke-width="1.4"/>
<circle cx="123.8" cy="551.2" r="1.5" fill="none" stroke="#ff0000" stroke-width="1.4"/>
<circle cx="117.5" cy="563.0" r="1.5" fill="none" stroke="#ff0000" stroke-width="1.4"/>
<circle cx="142.5" cy="566.6" r="1.5" fill="none" stroke="#ff0000" stroke-width="1.4"/>
<circle cx="134.4" cy="573.8" r="1.5" fill="none" stroke="#ff0000" stroke-width="1.4"/>
<circle cx="126.9" cy="591.4" r="1.5" fill="none" stroke="#ff0000" stroke-width="1.4"/>
<circle cx="116.8" cy="596.0" r="1.5" fill="none" stroke="#ff0000" stroke-width="1.4"/>
<circle cx="139.5" cy="620.8" r="1.5" fill="none" stroke="#ff0000" stroke-width="1.4"/>
<circle cx="112.7" cy="667.5" r="1.5" fill="none" stroke="#ff0000" stroke-width="1.4"/>
<circle cx="110.4" cy="670.6" r="1.5" fill="none" stroke="#ff0000" stroke-width="1.4"/>
<circle cx="141.7" cy="680.6" r="1.5" fill="none" stroke="#ff0000" stroke-width="1.4"/>
<circle cx="199.5" cy="484.7" r="1.5" fill="none" stroke="#0000ff" stroke-width="1.4"/>
<circle cx="204.3" cy="493.7" r="1.5" fill="none" stroke="#0000ff" stroke-width="1.4"/>
<circle cx="221.1" cy="493.7" r="1.5" fill="none" stroke="#0000ff" stroke-width="1.4"/>
<circle cx="197.2" cy="541.0" r="1.5" fill="none" stroke="#0000ff" stroke-width="1.4"/>
<circle cx="200.9" cy="543.9" r="1.5" fill="none" stroke="#0000ff" stroke-width="1.4"/>
<circle cx="212.2" cy="538.3" r="1.5" fill="none" stroke="#0000ff" stroke-width="1.4"/>
<circle cx="219.9" cy="537.3" r="1.5" fill="none" stroke="#0000ff" stroke-width="1.4"/>
<circle cx="224.7" cy="540.5" r="1.5" fill="none" stroke="#0000ff" stroke-width="1.4"/>
<circle cx="198.9" cy="550.0" r="1.5" fill="none" stroke="#0000ff" stroke-width="1.4"/>
<circle cx="208.1" cy="548.0" r="1.5" fill="none" stroke="#0000ff" stroke-width="1.4"/>
<circle cx="216.5" cy="545.9" r="1.5" fill="none" stroke="#0000ff" stroke-width="1.4"/>
<circle cx="219.5" cy="550.2" r="1.5" fill="none" stroke="#0000ff" stroke-width="1.4"/>
<circle cx="212.2" cy="561.0" r="1.5" fill="none" stroke="#0000ff" stroke-width="1.4"/>
<circle cx="213.2" cy="570.2" r="1.5" fill="none" stroke="#0000ff" stroke-width="1.4"/>
<circle cx="214.2" cy="573.8" r="1.5" fill="none" stroke="#0000ff" stroke-width="1.4"/>
<circle cx="216.3" cy="576.3" r="1.5" fill="none" stroke="#0000ff" stroke-width="1.4"/>
<circle cx="200.9" cy="574.6" r="1.5" fill="none" stroke="#0000ff" stroke-width="1.4"/>
<circle cx="209.8" cy="578.1" r="1.5" fill="none" stroke="#0000ff" stroke-width="1.4"/>
<circle cx="212.5" cy="583.0" r="1.5" fill="none" stroke="#0000ff" stroke-width="1.4"/>
<circle cx="202.5" cy="585.1" r="1.5" fill="none" stroke="#0000ff" stroke-width="1.4"/>
<circle cx="200.6" cy="590.4" r="1.5" fill="none" stroke="#0000ff" stroke-width="1.4"/>
<circle cx="209.6" cy="589.6" r="1.5" fill="none" stroke="#0000ff" stroke-width="1.4"/>
<circle cx="218.5" cy="588.9" r="1.5" fill="none" stroke="#0000ff" stroke-width="1.4"/>
<circle cx="199.7" cy="605.6" r="1.5" fill="none" stroke="#0000ff" stroke-width="1.4"/>
<circle cx="203.9" cy="703.5" r="1.5" fill="none" stroke="#0000ff" stroke-width="1.4"/>
<circle cx="198.5" cy="732.3" r="1.5" fill="none" stroke="#0000ff" stroke-width="1.4"/>
<line x1="438.2" y1="433.9" x2="438.2" y2="760.2" stroke="#000" stroke-width="1.4" stroke-linecap="butt"/>
<line x1="437.5" y1="759.5" x2="654.5" y2="759.5" stroke="#000" stroke-width="1.4" stroke-linecap="butt"/>
<line x1="438.2" y1="686.9" x2="654.5" y2="686.9" stroke="#000" stroke-width="1.4" stroke-linecap="butt"/>
<line x1="432.9" y1="446.6" x2="438.2" y2="446.6" stroke="#000" stroke-width="1.4" stroke-linecap="butt"/>
<text x="427.9" y="451.5" text-anchor="end" style="font-size:12.6px;font-weight:bold;stroke:#000;stroke-width:0.3px;" fill="#000" >100</text>
<line x1="432.9" y1="566.8" x2="438.2" y2="566.8" stroke="#000" stroke-width="1.4" stroke-linecap="butt"/>
<text x="427.9" y="571.6999999999999" text-anchor="end" style="font-size:12.6px;font-weight:bold;stroke:#000;stroke-width:0.3px;" fill="#000" >10</text>
<line x1="432.9" y1="687.0" x2="438.2" y2="687.0" stroke="#000" stroke-width="1.4" stroke-linecap="butt"/>
<text x="427.9" y="691.9" text-anchor="end" style="font-size:12.6px;font-weight:bold;stroke:#000;stroke-width:0.3px;" fill="#000" >1</text>
<line x1="496.0" y1="759.5" x2="496.0" y2="765.2" stroke="#000" stroke-width="1.4" stroke-linecap="butt"/>
<line x1="596.4" y1="759.5" x2="596.4" y2="765.2" stroke="#000" stroke-width="1.4" stroke-linecap="butt"/>
<text x="502.4" y="783.6" text-anchor="middle" style="font-size:12.0px;font-weight:bold;stroke:#000;stroke-width:0.3px;" fill="#000" >Dakar 41525</text>
<text x="603.15" y="783.6" text-anchor="middle" style="font-size:12.0px;font-weight:bold;stroke:#000;stroke-width:0.3px;" fill="#000" >PRVABC59</text>
<text x="488.5" y="452.2" text-anchor="middle" style="font-size:12.8px;font-weight:bold;stroke:#000;stroke-width:0.3px;font-style:italic;" fill="#000" >n=6</text>
<text x="489.85" y="468.7" text-anchor="middle" style="font-size:13.0px;font-weight:bold;stroke:#000;stroke-width:0.3px;" fill="#000" >P&lt;0.0001</text>
<text x="599.65" y="452.2" text-anchor="middle" style="font-size:12.8px;font-weight:bold;stroke:#000;stroke-width:0.3px;font-style:italic;" fill="#000" >n=6</text>
<text x="601.85" y="468.6" text-anchor="middle" style="font-size:13.0px;font-weight:bold;stroke:#000;stroke-width:0.3px;" fill="#000" >P=0.0001</text>
<text transform="translate(410.3,585.9) rotate(-90)" text-anchor="middle" style="font-size:13.7px;font-weight:bold;stroke:#000;stroke-width:0.3px">Relative Replicative Fitness</text>
<clipPath id="vc1"><path d="M497.05,536.00 L497.08,536.47 L497.11,536.94 L497.15,537.41 L497.20,537.88 L497.26,538.35 L497.35,538.83 L497.45,539.30 L497.57,539.77 L497.72,540.24 L497.90,540.71 L498.12,541.18 L498.37,541.65 L498.66,542.12 L499.00,542.59 L499.38,543.06 L499.81,543.53 L500.29,544.00 L500.82,544.48 L501.39,544.95 L502.02,545.42 L502.68,545.89 L503.39,546.36 L504.13,546.83 L504.90,547.30 L505.69,547.77 L506.49,548.24 L507.30,548.71 L508.11,549.18 L508.91,549.65 L509.69,550.12 L510.44,550.60 L511.16,551.07 L511.85,551.54 L512.48,552.01 L513.07,552.48 L513.60,552.95 L514.08,553.42 L514.49,553.89 L514.86,554.36 L515.16,554.83 L515.41,555.30 L515.61,555.77 L515.76,556.25 L515.87,556.72 L515.94,557.19 L515.98,557.66 L516.00,558.13 L516.00,558.60 L516.00,559.07 L515.98,559.55 L515.94,560.02 L515.87,560.49 L515.76,560.96 L515.61,561.44 L515.41,561.91 L515.16,562.38 L514.86,562.86 L514.49,563.33 L514.08,563.80 L513.60,564.27 L513.07,564.75 L512.48,565.22 L511.85,565.69 L511.16,566.17 L510.44,566.64 L509.69,567.11 L508.91,567.59 L508.11,568.06 L507.30,568.53 L506.49,569.00 L505.69,569.48 L504.90,569.95 L504.13,570.42 L503.39,570.90 L502.68,571.37 L502.02,571.84 L501.39,572.31 L500.82,572.79 L500.29,573.26 L499.81,573.73 L499.38,574.21 L499.00,574.68 L498.66,575.15 L498.37,575.62 L498.12,576.10 L497.90,576.57 L497.72,577.04 L497.57,577.52 L497.45,577.99 L497.35,578.46 L497.26,578.94 L497.20,579.41 L497.15,579.88 L497.11,580.35 L497.08,580.83 L497.05,581.30 L495.55,581.30 L495.52,580.83 L495.49,580.35 L495.45,579.88 L495.40,579.41 L495.34,578.94 L495.25,578.46 L495.15,577.99 L495.03,577.52 L494.88,577.04 L494.70,576.57 L494.48,576.10 L494.23,575.62 L493.94,575.15 L493.60,574.68 L493.22,574.21 L492.79,573.73 L492.31,573.26 L491.78,572.79 L491.21,572.31 L490.58,571.84 L489.92,571.37 L489.21,570.90 L488.47,570.42 L487.70,569.95 L486.91,569.48 L486.11,569.00 L485.30,568.53 L484.49,568.06 L483.69,567.59 L482.91,567.11 L482.16,566.64 L481.44,566.17 L480.75,565.69 L480.12,565.22 L479.53,564.75 L479.00,564.27 L478.52,563.80 L478.11,563.33 L477.74,562.86 L477.44,562.38 L477.19,561.91 L476.99,561.44 L476.84,560.96 L476.73,560.49 L476.66,560.02 L476.62,559.55 L476.60,559.07 L476.60,558.60 L476.60,558.13 L476.62,557.66 L476.66,557.19 L476.73,556.72 L476.84,556.25 L476.99,555.77 L477.19,555.30 L477.44,554.83 L477.74,554.36 L478.11,553.89 L478.52,553.42 L479.00,552.95 L479.53,552.48 L480.12,552.01 L480.75,551.54 L481.44,551.07 L482.16,550.60 L482.91,550.12 L483.69,549.65 L484.49,549.18 L485.30,548.71 L486.11,548.24 L486.91,547.77 L487.70,547.30 L488.47,546.83 L489.21,546.36 L489.92,545.89 L490.58,545.42 L491.21,544.95 L491.78,544.48 L492.31,544.00 L492.79,543.53 L493.22,543.06 L493.60,542.59 L493.94,542.12 L494.23,541.65 L494.48,541.18 L494.70,540.71 L494.88,540.24 L495.03,539.77 L495.15,539.30 L495.25,538.83 L495.34,538.35 L495.40,537.88 L495.45,537.41 L495.49,536.94 L495.52,536.47 L495.55,536.00 Z"/></clipPath>
<rect x="474.6" y="551.4" width="43.4" height="14.100000000000023" fill="#cbcbcb" clip-path="url(#vc1)"/>
<path d="M497.05,536.00 L497.08,536.47 L497.11,536.94 L497.15,537.41 L497.20,537.88 L497.26,538.35 L497.35,538.83 L497.45,539.30 L497.57,539.77 L497.72,540.24 L497.90,540.71 L498.12,541.18 L498.37,541.65 L498.66,542.12 L499.00,542.59 L499.38,543.06 L499.81,543.53 L500.29,544.00 L500.82,544.48 L501.39,544.95 L502.02,545.42 L502.68,545.89 L503.39,546.36 L504.13,546.83 L504.90,547.30 L505.69,547.77 L506.49,548.24 L507.30,548.71 L508.11,549.18 L508.91,549.65 L509.69,550.12 L510.44,550.60 L511.16,551.07 L511.85,551.54 L512.48,552.01 L513.07,552.48 L513.60,552.95 L514.08,553.42 L514.49,553.89 L514.86,554.36 L515.16,554.83 L515.41,555.30 L515.61,555.77 L515.76,556.25 L515.87,556.72 L515.94,557.19 L515.98,557.66 L516.00,558.13 L516.00,558.60 L516.00,559.07 L515.98,559.55 L515.94,560.02 L515.87,560.49 L515.76,560.96 L515.61,561.44 L515.41,561.91 L515.16,562.38 L514.86,562.86 L514.49,563.33 L514.08,563.80 L513.60,564.27 L513.07,564.75 L512.48,565.22 L511.85,565.69 L511.16,566.17 L510.44,566.64 L509.69,567.11 L508.91,567.59 L508.11,568.06 L507.30,568.53 L506.49,569.00 L505.69,569.48 L504.90,569.95 L504.13,570.42 L503.39,570.90 L502.68,571.37 L502.02,571.84 L501.39,572.31 L500.82,572.79 L500.29,573.26 L499.81,573.73 L499.38,574.21 L499.00,574.68 L498.66,575.15 L498.37,575.62 L498.12,576.10 L497.90,576.57 L497.72,577.04 L497.57,577.52 L497.45,577.99 L497.35,578.46 L497.26,578.94 L497.20,579.41 L497.15,579.88 L497.11,580.35 L497.08,580.83 L497.05,581.30 L495.55,581.30 L495.52,580.83 L495.49,580.35 L495.45,579.88 L495.40,579.41 L495.34,578.94 L495.25,578.46 L495.15,577.99 L495.03,577.52 L494.88,577.04 L494.70,576.57 L494.48,576.10 L494.23,575.62 L493.94,575.15 L493.60,574.68 L493.22,574.21 L492.79,573.73 L492.31,573.26 L491.78,572.79 L491.21,572.31 L490.58,571.84 L489.92,571.37 L489.21,570.90 L488.47,570.42 L487.70,569.95 L486.91,569.48 L486.11,569.00 L485.30,568.53 L484.49,568.06 L483.69,567.59 L482.91,567.11 L482.16,566.64 L481.44,566.17 L480.75,565.69 L480.12,565.22 L479.53,564.75 L479.00,564.27 L478.52,563.80 L478.11,563.33 L477.74,562.86 L477.44,562.38 L477.19,561.91 L476.99,561.44 L476.84,560.96 L476.73,560.49 L476.66,560.02 L476.62,559.55 L476.60,559.07 L476.60,558.60 L476.60,558.13 L476.62,557.66 L476.66,557.19 L476.73,556.72 L476.84,556.25 L476.99,555.77 L477.19,555.30 L477.44,554.83 L477.74,554.36 L478.11,553.89 L478.52,553.42 L479.00,552.95 L479.53,552.48 L480.12,552.01 L480.75,551.54 L481.44,551.07 L482.16,550.60 L482.91,550.12 L483.69,549.65 L484.49,549.18 L485.30,548.71 L486.11,548.24 L486.91,547.77 L487.70,547.30 L488.47,546.83 L489.21,546.36 L489.92,545.89 L490.58,545.42 L491.21,544.95 L491.78,544.48 L492.31,544.00 L492.79,543.53 L493.22,543.06 L493.60,542.59 L493.94,542.12 L494.23,541.65 L494.48,541.18 L494.70,540.71 L494.88,540.24 L495.03,539.77 L495.15,539.30 L495.25,538.83 L495.34,538.35 L495.40,537.88 L495.45,537.41 L495.49,536.94 L495.52,536.47 L495.55,536.00 Z" fill="none" stroke="#000" stroke-width="1.9" stroke-linejoin="round"/>
<line x1="476.6" y1="558.6" x2="516.0" y2="558.6" stroke="#000" stroke-width="1.8" stroke-linecap="butt"/>
<clipPath id="vc2"><path d="M597.14,615.30 L597.16,615.77 L597.18,616.25 L597.21,616.72 L597.25,617.19 L597.29,617.66 L597.35,618.14 L597.43,618.61 L597.52,619.08 L597.63,619.56 L597.77,620.03 L597.93,620.50 L598.12,620.97 L598.35,621.45 L598.61,621.92 L598.91,622.39 L599.26,622.87 L599.65,623.34 L600.09,623.81 L600.58,624.29 L601.11,624.76 L601.69,625.23 L602.32,625.70 L603.00,626.18 L603.71,626.65 L604.46,627.12 L605.23,627.60 L606.03,628.07 L606.85,628.54 L607.67,629.01 L608.49,629.49 L609.30,629.96 L610.10,630.43 L610.86,630.91 L611.60,631.38 L612.29,631.85 L612.93,632.33 L613.52,632.80 L614.06,633.27 L614.53,633.74 L614.94,634.22 L615.29,634.69 L615.58,635.16 L615.80,635.64 L615.97,636.11 L616.09,636.58 L616.16,637.05 L616.19,637.53 L616.20,638.00 L616.19,638.47 L616.16,638.94 L616.09,639.41 L615.97,639.88 L615.80,640.35 L615.58,640.83 L615.29,641.30 L614.94,641.77 L614.53,642.24 L614.06,642.71 L613.52,643.18 L612.93,643.65 L612.29,644.12 L611.60,644.59 L610.86,645.06 L610.10,645.53 L609.30,646.00 L608.49,646.48 L607.67,646.95 L606.85,647.42 L606.03,647.89 L605.23,648.36 L604.46,648.83 L603.71,649.30 L603.00,649.77 L602.32,650.24 L601.69,650.71 L601.11,651.18 L600.58,651.65 L600.09,652.12 L599.65,652.60 L599.26,653.07 L598.91,653.54 L598.61,654.01 L598.35,654.48 L598.12,654.95 L597.93,655.42 L597.77,655.89 L597.63,656.36 L597.52,656.83 L597.43,657.30 L597.35,657.77 L597.29,658.25 L597.25,658.72 L597.21,659.19 L597.18,659.66 L597.16,660.13 L597.14,660.60 L595.66,660.60 L595.64,660.13 L595.62,659.66 L595.59,659.19 L595.55,658.72 L595.51,658.25 L595.45,657.77 L595.37,657.30 L595.28,656.83 L595.17,656.36 L595.03,655.89 L594.87,655.42 L594.68,654.95 L594.45,654.48 L594.19,654.01 L593.89,653.54 L593.54,653.07 L593.15,652.60 L592.71,652.12 L592.22,651.65 L591.69,651.18 L591.11,650.71 L590.48,650.24 L589.80,649.77 L589.09,649.30 L588.34,648.83 L587.57,648.36 L586.77,647.89 L585.95,647.42 L585.13,646.95 L584.31,646.48 L583.50,646.00 L582.70,645.53 L581.94,645.06 L581.20,644.59 L580.51,644.12 L579.87,643.65 L579.28,643.18 L578.74,642.71 L578.27,642.24 L577.86,641.77 L577.51,641.30 L577.22,640.83 L577.00,640.35 L576.83,639.88 L576.71,639.41 L576.64,638.94 L576.61,638.47 L576.60,638.00 L576.61,637.53 L576.64,637.05 L576.71,636.58 L576.83,636.11 L577.00,635.64 L577.22,635.16 L577.51,634.69 L577.86,634.22 L578.27,633.74 L578.74,633.27 L579.28,632.80 L579.87,632.33 L580.51,631.85 L581.20,631.38 L581.94,630.91 L582.70,630.43 L583.50,629.96 L584.31,629.49 L585.13,629.01 L585.95,628.54 L586.77,628.07 L587.57,627.60 L588.34,627.12 L589.09,626.65 L589.80,626.18 L590.48,625.70 L591.11,625.23 L591.69,624.76 L592.22,624.29 L592.71,623.81 L593.15,623.34 L593.54,622.87 L593.89,622.39 L594.19,621.92 L594.45,621.45 L594.68,620.97 L594.87,620.50 L595.03,620.03 L595.17,619.56 L595.28,619.08 L595.37,618.61 L595.45,618.14 L595.51,617.66 L595.55,617.19 L595.59,616.72 L595.62,616.25 L595.64,615.77 L595.66,615.30 Z"/></clipPath>
<rect x="574.6" y="631.0" width="43.6" height="14.0" fill="#cbcbcb" clip-path="url(#vc2)"/>
<path d="M597.14,615.30 L597.16,615.77 L597.18,616.25 L597.21,616.72 L597.25,617.19 L597.29,617.66 L597.35,618.14 L597.43,618.61 L597.52,619.08 L597.63,619.56 L597.77,620.03 L597.93,620.50 L598.12,620.97 L598.35,621.45 L598.61,621.92 L598.91,622.39 L599.26,622.87 L599.65,623.34 L600.09,623.81 L600.58,624.29 L601.11,624.76 L601.69,625.23 L602.32,625.70 L603.00,626.18 L603.71,626.65 L604.46,627.12 L605.23,627.60 L606.03,628.07 L606.85,628.54 L607.67,629.01 L608.49,629.49 L609.30,629.96 L610.10,630.43 L610.86,630.91 L611.60,631.38 L612.29,631.85 L612.93,632.33 L613.52,632.80 L614.06,633.27 L614.53,633.74 L614.94,634.22 L615.29,634.69 L615.58,635.16 L615.80,635.64 L615.97,636.11 L616.09,636.58 L616.16,637.05 L616.19,637.53 L616.20,638.00 L616.19,638.47 L616.16,638.94 L616.09,639.41 L615.97,639.88 L615.80,640.35 L615.58,640.83 L615.29,641.30 L614.94,641.77 L614.53,642.24 L614.06,642.71 L613.52,643.18 L612.93,643.65 L612.29,644.12 L611.60,644.59 L610.86,645.06 L610.10,645.53 L609.30,646.00 L608.49,646.48 L607.67,646.95 L606.85,647.42 L606.03,647.89 L605.23,648.36 L604.46,648.83 L603.71,649.30 L603.00,649.77 L602.32,650.24 L601.69,650.71 L601.11,651.18 L600.58,651.65 L600.09,652.12 L599.65,652.60 L599.26,653.07 L598.91,653.54 L598.61,654.01 L598.35,654.48 L598.12,654.95 L597.93,655.42 L597.77,655.89 L597.63,656.36 L597.52,656.83 L597.43,657.30 L597.35,657.77 L597.29,658.25 L597.25,658.72 L597.21,659.19 L597.18,659.66 L597.16,660.13 L597.14,660.60 L595.66,660.60 L595.64,660.13 L595.62,659.66 L595.59,659.19 L595.55,658.72 L595.51,658.25 L595.45,657.77 L595.37,657.30 L595.28,656.83 L595.17,656.36 L595.03,655.89 L594.87,655.42 L594.68,654.95 L594.45,654.48 L594.19,654.01 L593.89,653.54 L593.54,653.07 L593.15,652.60 L592.71,652.12 L592.22,651.65 L591.69,651.18 L591.11,650.71 L590.48,650.24 L589.80,649.77 L589.09,649.30 L588.34,648.83 L587.57,648.36 L586.77,647.89 L585.95,647.42 L585.13,646.95 L584.31,646.48 L583.50,646.00 L582.70,645.53 L581.94,645.06 L581.20,644.59 L580.51,644.12 L579.87,643.65 L579.28,643.18 L578.74,642.71 L578.27,642.24 L577.86,641.77 L577.51,641.30 L577.22,640.83 L577.00,640.35 L576.83,639.88 L576.71,639.41 L576.64,638.94 L576.61,638.47 L576.60,638.00 L576.61,637.53 L576.64,637.05 L576.71,636.58 L576.83,636.11 L577.00,635.64 L577.22,635.16 L577.51,634.69 L577.86,634.22 L578.27,633.74 L578.74,633.27 L579.28,632.80 L579.87,632.33 L580.51,631.85 L581.20,631.38 L581.94,630.91 L582.70,630.43 L583.50,629.96 L584.31,629.49 L585.13,629.01 L585.95,628.54 L586.77,628.07 L587.57,627.60 L588.34,627.12 L589.09,626.65 L589.80,626.18 L590.48,625.70 L591.11,625.23 L591.69,624.76 L592.22,624.29 L592.71,623.81 L593.15,623.34 L593.54,622.87 L593.89,622.39 L594.19,621.92 L594.45,621.45 L594.68,620.97 L594.87,620.50 L595.03,620.03 L595.17,619.56 L595.28,619.08 L595.37,618.61 L595.45,618.14 L595.51,617.66 L595.55,617.19 L595.59,616.72 L595.62,616.25 L595.64,615.77 L595.66,615.30 Z" fill="none" stroke="#000" stroke-width="1.9" stroke-linejoin="round"/>
<line x1="576.6" y1="638.0" x2="616.1999999999999" y2="638.0" stroke="#000" stroke-width="1.8" stroke-linecap="butt"/>
<circle cx="514.7" cy="537.8" r="1.8" fill="none" stroke="#ff0000" stroke-width="1.5"/>
<circle cx="515.6" cy="539.0" r="1.8" fill="none" stroke="#ff0000" stroke-width="1.5"/>
<circle cx="514.5" cy="551.1" r="1.8" fill="none" stroke="#ff0000" stroke-width="1.5"/>
<circle cx="511.5" cy="561.6" r="1.8" fill="none" stroke="#ff0000" stroke-width="1.5"/>
<circle cx="486.7" cy="581.6" r="1.8" fill="none" stroke="#ff0000" stroke-width="1.5"/>
<circle cx="505.3" cy="582.0" r="1.8" fill="none" stroke="#ff0000" stroke-width="1.5"/>
<circle cx="589.3" cy="634.7" r="1.8" fill="none" stroke="#0000ff" stroke-width="1.5"/>
<circle cx="594.3" cy="637.2" r="1.8" fill="none" stroke="#0000ff" stroke-width="1.5"/>
<circle cx="604.7" cy="635.0" r="1.8" fill="none" stroke="#0000ff" stroke-width="1.5"/>
<circle cx="606.4" cy="639.1" r="1.8" fill="none" stroke="#0000ff" stroke-width="1.5"/>
<circle cx="615.2" cy="632.4" r="1.8" fill="none" stroke="#0000ff" stroke-width="1.5"/>
<circle cx="599.9" cy="646.0" r="1.8" fill="none" stroke="#0000ff" stroke-width="1.5"/>
<line x1="86.0" y1="820.1" x2="86.0" y2="1130.7" stroke="#000" stroke-width="1.4" stroke-linecap="butt"/>
<line x1="85.3" y1="1130.0" x2="292.0" y2="1130.0" stroke="#000" stroke-width="1.4" stroke-linecap="butt"/>
<line x1="86.0" y1="1076.0" x2="292.0" y2="1076.0" stroke="#000" stroke-width="1.4" stroke-linecap="butt"/>
<line x1="81" y1="871.8" x2="86.0" y2="871.8" stroke="#000" stroke-width="1.4" stroke-linecap="butt"/>
<text x="76.2" y="876.3" text-anchor="end" style="font-size:12.0px;font-weight:bold;stroke:#000;stroke-width:0.3px;" fill="#000" >100</text>
<line x1="81" y1="973.9" x2="86.0" y2="973.9" stroke="#000" stroke-width="1.4" stroke-linecap="butt"/>
<text x="76.2" y="978.4" text-anchor="end" style="font-size:12.0px;font-weight:bold;stroke:#000;stroke-width:0.3px;" fill="#000" >10</text>
<line x1="81" y1="1076.0" x2="86.0" y2="1076.0" stroke="#000" stroke-width="1.4" stroke-linecap="butt"/>
<text x="76.2" y="1080.5" text-anchor="end" style="font-size:12.0px;font-weight:bold;stroke:#000;stroke-width:0.3px;" fill="#000" >1</text>
<line x1="141.0" y1="1130.0" x2="141.0" y2="1134.7" stroke="#000" stroke-width="1.4" stroke-linecap="butt"/>
<line x1="235.7" y1="1130.0" x2="235.7" y2="1134.7" stroke="#000" stroke-width="1.4" stroke-linecap="butt"/>
<text x="140.2" y="1146.6" text-anchor="middle" style="font-size:11.3px;font-weight:bold;stroke:#000;stroke-width:0.3px;" fill="#000" >Dakar 41525</text>
<text x="234.9" y="1146.6" text-anchor="middle" style="font-size:11.3px;font-weight:bold;stroke:#000;stroke-width:0.3px;" fill="#000" >PRVABC59</text>
<text x="145.4" y="804.1" text-anchor="middle" style="font-size:12.5px;font-weight:bold;stroke:#000;stroke-width:0.3px;font-style:italic;" fill="#000" >n=30</text>
<text x="142.6" y="819.6" text-anchor="middle" style="font-size:12.7px;font-weight:bold;stroke:#000;stroke-width:0.3px;" fill="#000" >P&lt;0.0001</text>
<text x="235.1" y="804.1" text-anchor="middle" style="font-size:12.5px;font-weight:bold;stroke:#000;stroke-width:0.3px;font-style:italic;" fill="#000" >n=30</text>
<text x="240.75" y="819.6" text-anchor="middle" style="font-size:12.7px;font-weight:bold;stroke:#000;stroke-width:0.3px;" fill="#000" >P&lt;0.0001</text>
<text transform="translate(52.8,961.35) rotate(-90)" text-anchor="middle" style="font-size:12.6px;font-weight:bold;stroke:#000;stroke-width:0.3px">Relative Replicative Fitness</text>
<clipPath id="vd1"><path d="M141.89,865.30 L141.92,865.56 L141.97,865.82 L142.02,866.09 L142.08,866.35 L142.16,866.61 L142.25,866.88 L142.36,867.14 L142.49,867.40 L142.64,867.66 L142.82,867.92 L143.03,868.19 L143.26,868.45 L143.53,868.71 L143.83,868.97 L144.16,869.24 L144.54,869.50 L144.95,869.76 L145.40,870.02 L145.89,870.29 L146.42,870.55 L146.98,870.81 L147.58,871.07 L148.21,871.34 L148.87,871.60 L149.56,871.86 L150.26,872.12 L150.98,872.39 L151.71,872.65 L152.44,872.91 L153.17,873.17 L153.88,873.44 L154.58,873.70 L155.26,873.96 L155.90,874.23 L156.52,874.49 L157.09,874.75 L157.61,875.01 L158.09,875.27 L158.52,875.54 L158.90,875.80 L159.22,876.06 L159.49,876.32 L159.70,876.59 L159.87,876.85 L159.98,877.11 L160.06,877.38 L160.09,877.64 L160.10,877.90 L160.09,878.16 L160.06,878.42 L159.98,878.68 L159.87,878.94 L159.70,879.20 L159.49,879.46 L159.22,879.72 L158.90,879.98 L158.52,880.24 L158.09,880.50 L157.61,880.76 L157.09,881.02 L156.52,881.29 L155.90,881.55 L155.26,881.81 L154.58,882.07 L153.88,882.33 L153.17,882.59 L152.44,882.85 L151.71,883.11 L150.98,883.37 L150.26,883.63 L149.56,883.89 L148.87,884.15 L148.21,884.41 L147.58,884.67 L146.98,884.93 L146.42,885.19 L145.89,885.45 L145.40,885.71 L144.95,885.97 L144.54,886.23 L144.16,886.49 L143.83,886.75 L143.53,887.01 L143.26,887.27 L143.03,887.54 L142.82,887.80 L142.64,888.06 L142.49,888.32 L142.36,888.58 L142.25,888.84 L142.16,889.10 L142.08,889.36 L142.02,889.62 L141.97,889.88 L141.92,890.14 L141.89,890.40 L140.31,890.40 L140.28,890.14 L140.23,889.88 L140.18,889.62 L140.12,889.36 L140.04,889.10 L139.95,888.84 L139.84,888.58 L139.71,888.32 L139.56,888.06 L139.38,887.80 L139.17,887.54 L138.94,887.27 L138.67,887.01 L138.37,886.75 L138.04,886.49 L137.66,886.23 L137.25,885.97 L136.80,885.71 L136.31,885.45 L135.78,885.19 L135.22,884.93 L134.62,884.67 L133.99,884.41 L133.33,884.15 L132.64,883.89 L131.94,883.63 L131.22,883.37 L130.49,883.11 L129.76,882.85 L129.03,882.59 L128.32,882.33 L127.62,882.07 L126.94,881.81 L126.30,881.55 L125.68,881.29 L125.11,881.02 L124.59,880.76 L124.11,880.50 L123.68,880.24 L123.30,879.98 L122.98,879.72 L122.71,879.46 L122.50,879.20 L122.33,878.94 L122.22,878.68 L122.14,878.42 L122.11,878.16 L122.10,877.90 L122.11,877.64 L122.14,877.38 L122.22,877.11 L122.33,876.85 L122.50,876.59 L122.71,876.32 L122.98,876.06 L123.30,875.80 L123.68,875.54 L124.11,875.27 L124.59,875.01 L125.11,874.75 L125.68,874.49 L126.30,874.23 L126.94,873.96 L127.62,873.70 L128.32,873.44 L129.03,873.17 L129.76,872.91 L130.49,872.65 L131.22,872.39 L131.94,872.12 L132.64,871.86 L133.33,871.60 L133.99,871.34 L134.62,871.07 L135.22,870.81 L135.78,870.55 L136.31,870.29 L136.80,870.02 L137.25,869.76 L137.66,869.50 L138.04,869.24 L138.37,868.97 L138.67,868.71 L138.94,868.45 L139.17,868.19 L139.38,867.92 L139.56,867.66 L139.71,867.40 L139.84,867.14 L139.95,866.88 L140.04,866.61 L140.12,866.35 L140.18,866.09 L140.23,865.82 L140.28,865.56 L140.31,865.30 Z"/></clipPath>
<rect x="120.1" y="874.6" width="42.0" height="7.0" fill="#cbcbcb" clip-path="url(#vd1)"/>
<path d="M141.89,865.30 L141.92,865.56 L141.97,865.82 L142.02,866.09 L142.08,866.35 L142.16,866.61 L142.25,866.88 L142.36,867.14 L142.49,867.40 L142.64,867.66 L142.82,867.92 L143.03,868.19 L143.26,868.45 L143.53,868.71 L143.83,868.97 L144.16,869.24 L144.54,869.50 L144.95,869.76 L145.40,870.02 L145.89,870.29 L146.42,870.55 L146.98,870.81 L147.58,871.07 L148.21,871.34 L148.87,871.60 L149.56,871.86 L150.26,872.12 L150.98,872.39 L151.71,872.65 L152.44,872.91 L153.17,873.17 L153.88,873.44 L154.58,873.70 L155.26,873.96 L155.90,874.23 L156.52,874.49 L157.09,874.75 L157.61,875.01 L158.09,875.27 L158.52,875.54 L158.90,875.80 L159.22,876.06 L159.49,876.32 L159.70,876.59 L159.87,876.85 L159.98,877.11 L160.06,877.38 L160.09,877.64 L160.10,877.90 L160.09,878.16 L160.06,878.42 L159.98,878.68 L159.87,878.94 L159.70,879.20 L159.49,879.46 L159.22,879.72 L158.90,879.98 L158.52,880.24 L158.09,880.50 L157.61,880.76 L157.09,881.02 L156.52,881.29 L155.90,881.55 L155.26,881.81 L154.58,882.07 L153.88,882.33 L153.17,882.59 L152.44,882.85 L151.71,883.11 L150.98,883.37 L150.26,883.63 L149.56,883.89 L148.87,884.15 L148.21,884.41 L147.58,884.67 L146.98,884.93 L146.42,885.19 L145.89,885.45 L145.40,885.71 L144.95,885.97 L144.54,886.23 L144.16,886.49 L143.83,886.75 L143.53,887.01 L143.26,887.27 L143.03,887.54 L142.82,887.80 L142.64,888.06 L142.49,888.32 L142.36,888.58 L142.25,888.84 L142.16,889.10 L142.08,889.36 L142.02,889.62 L141.97,889.88 L141.92,890.14 L141.89,890.40 L140.31,890.40 L140.28,890.14 L140.23,889.88 L140.18,889.62 L140.12,889.36 L140.04,889.10 L139.95,888.84 L139.84,888.58 L139.71,888.32 L139.56,888.06 L139.38,887.80 L139.17,887.54 L138.94,887.27 L138.67,887.01 L138.37,886.75 L138.04,886.49 L137.66,886.23 L137.25,885.97 L136.80,885.71 L136.31,885.45 L135.78,885.19 L135.22,884.93 L134.62,884.67 L133.99,884.41 L133.33,884.15 L132.64,883.89 L131.94,883.63 L131.22,883.37 L130.49,883.11 L129.76,882.85 L129.03,882.59 L128.32,882.33 L127.62,882.07 L126.94,881.81 L126.30,881.55 L125.68,881.29 L125.11,881.02 L124.59,880.76 L124.11,880.50 L123.68,880.24 L123.30,879.98 L122.98,879.72 L122.71,879.46 L122.50,879.20 L122.33,878.94 L122.22,878.68 L122.14,878.42 L122.11,878.16 L122.10,877.90 L122.11,877.64 L122.14,877.38 L122.22,877.11 L122.33,876.85 L122.50,876.59 L122.71,876.32 L122.98,876.06 L123.30,875.80 L123.68,875.54 L124.11,875.27 L124.59,875.01 L125.11,874.75 L125.68,874.49 L126.30,874.23 L126.94,873.96 L127.62,873.70 L128.32,873.44 L129.03,873.17 L129.76,872.91 L130.49,872.65 L131.22,872.39 L131.94,872.12 L132.64,871.86 L133.33,871.60 L133.99,871.34 L134.62,871.07 L135.22,870.81 L135.78,870.55 L136.31,870.29 L136.80,870.02 L137.25,869.76 L137.66,869.50 L138.04,869.24 L138.37,868.97 L138.67,868.71 L138.94,868.45 L139.17,868.19 L139.38,867.92 L139.56,867.66 L139.71,867.40 L139.84,867.14 L139.95,866.88 L140.04,866.61 L140.12,866.35 L140.18,866.09 L140.23,865.82 L140.28,865.56 L140.31,865.30 Z" fill="none" stroke="#000" stroke-width="1.9" stroke-linejoin="round"/>
<line x1="122.1" y1="877.9" x2="160.1" y2="877.9" stroke="#000" stroke-width="1.8" stroke-linecap="butt"/>
<clipPath id="vd2"><path d="M236.94,956.40 L236.96,957.13 L236.99,957.85 L237.03,958.58 L237.08,959.31 L237.13,960.04 L237.20,960.76 L237.29,961.49 L237.39,962.22 L237.51,962.94 L237.66,963.67 L237.83,964.40 L238.03,965.12 L238.26,965.85 L238.52,966.58 L238.82,967.31 L239.16,968.03 L239.54,968.76 L239.96,969.49 L240.42,970.21 L240.92,970.94 L241.47,971.67 L242.05,972.40 L242.67,973.12 L243.33,973.85 L244.02,974.58 L244.74,975.30 L245.47,976.03 L246.22,976.76 L246.98,977.49 L247.74,978.21 L248.49,978.94 L249.23,979.67 L249.95,980.39 L250.64,981.12 L251.30,981.85 L251.92,982.57 L252.49,983.30 L253.01,984.03 L253.47,984.76 L253.88,985.48 L254.23,986.21 L254.53,986.94 L254.76,987.66 L254.94,988.39 L255.07,989.12 L255.15,989.85 L255.19,990.57 L255.20,991.30 L255.19,992.03 L255.15,992.77 L255.07,993.50 L254.94,994.23 L254.76,994.97 L254.53,995.70 L254.23,996.43 L253.88,997.17 L253.47,997.90 L253.01,998.63 L252.49,999.37 L251.92,1000.10 L251.30,1000.83 L250.64,1001.57 L249.95,1002.30 L249.23,1003.03 L248.49,1003.77 L247.74,1004.50 L246.98,1005.23 L246.22,1005.97 L245.47,1006.70 L244.74,1007.43 L244.02,1008.17 L243.33,1008.90 L242.67,1009.63 L242.05,1010.37 L241.47,1011.10 L240.92,1011.83 L240.42,1012.57 L239.96,1013.30 L239.54,1014.03 L239.16,1014.77 L238.82,1015.50 L238.52,1016.23 L238.26,1016.97 L238.03,1017.70 L237.83,1018.43 L237.66,1019.17 L237.51,1019.90 L237.39,1020.63 L237.29,1021.37 L237.20,1022.10 L237.13,1022.83 L237.08,1023.57 L237.03,1024.30 L236.99,1025.03 L236.96,1025.77 L236.94,1026.50 L235.46,1026.50 L235.44,1025.77 L235.41,1025.03 L235.37,1024.30 L235.32,1023.57 L235.27,1022.83 L235.20,1022.10 L235.11,1021.37 L235.01,1020.63 L234.89,1019.90 L234.74,1019.17 L234.57,1018.43 L234.37,1017.70 L234.14,1016.97 L233.88,1016.23 L233.58,1015.50 L233.24,1014.77 L232.86,1014.03 L232.44,1013.30 L231.98,1012.57 L231.48,1011.83 L230.93,1011.10 L230.35,1010.37 L229.73,1009.63 L229.07,1008.90 L228.38,1008.17 L227.66,1007.43 L226.93,1006.70 L226.18,1005.97 L225.42,1005.23 L224.66,1004.50 L223.91,1003.77 L223.17,1003.03 L222.45,1002.30 L221.76,1001.57 L221.10,1000.83 L220.48,1000.10 L219.91,999.37 L219.39,998.63 L218.93,997.90 L218.52,997.17 L218.17,996.43 L217.87,995.70 L217.64,994.97 L217.46,994.23 L217.33,993.50 L217.25,992.77 L217.21,992.03 L217.20,991.30 L217.21,990.57 L217.25,989.85 L217.33,989.12 L217.46,988.39 L217.64,987.66 L217.87,986.94 L218.17,986.21 L218.52,985.48 L218.93,984.76 L219.39,984.03 L219.91,983.30 L220.48,982.57 L221.10,981.85 L221.76,981.12 L222.45,980.39 L223.17,979.67 L223.91,978.94 L224.66,978.21 L225.42,977.49 L226.18,976.76 L226.93,976.03 L227.66,975.30 L228.38,974.58 L229.07,973.85 L229.73,973.12 L230.35,972.40 L230.93,971.67 L231.48,970.94 L231.98,970.21 L232.44,969.49 L232.86,968.76 L233.24,968.03 L233.58,967.31 L233.88,966.58 L234.14,965.85 L234.37,965.12 L234.57,964.40 L234.74,963.67 L234.89,962.94 L235.01,962.22 L235.11,961.49 L235.20,960.76 L235.27,960.04 L235.32,959.31 L235.37,958.58 L235.41,957.85 L235.44,957.13 L235.46,956.40 Z"/></clipPath>
<rect x="215.2" y="980.1" width="42.0" height="22.399999999999977" fill="#cbcbcb" clip-path="url(#vd2)"/>
<path d="M236.94,956.40 L236.96,957.13 L236.99,957.85 L237.03,958.58 L237.08,959.31 L237.13,960.04 L237.20,960.76 L237.29,961.49 L237.39,962.22 L237.51,962.94 L237.66,963.67 L237.83,964.40 L238.03,965.12 L238.26,965.85 L238.52,966.58 L238.82,967.31 L239.16,968.03 L239.54,968.76 L239.96,969.49 L240.42,970.21 L240.92,970.94 L241.47,971.67 L242.05,972.40 L242.67,973.12 L243.33,973.85 L244.02,974.58 L244.74,975.30 L245.47,976.03 L246.22,976.76 L246.98,977.49 L247.74,978.21 L248.49,978.94 L249.23,979.67 L249.95,980.39 L250.64,981.12 L251.30,981.85 L251.92,982.57 L252.49,983.30 L253.01,984.03 L253.47,984.76 L253.88,985.48 L254.23,986.21 L254.53,986.94 L254.76,987.66 L254.94,988.39 L255.07,989.12 L255.15,989.85 L255.19,990.57 L255.20,991.30 L255.19,992.03 L255.15,992.77 L255.07,993.50 L254.94,994.23 L254.76,994.97 L254.53,995.70 L254.23,996.43 L253.88,997.17 L253.47,997.90 L253.01,998.63 L252.49,999.37 L251.92,1000.10 L251.30,1000.83 L250.64,1001.57 L249.95,1002.30 L249.23,1003.03 L248.49,1003.77 L247.74,1004.50 L246.98,1005.23 L246.22,1005.97 L245.47,1006.70 L244.74,1007.43 L244.02,1008.17 L243.33,1008.90 L242.67,1009.63 L242.05,1010.37 L241.47,1011.10 L240.92,1011.83 L240.42,1012.57 L239.96,1013.30 L239.54,1014.03 L239.16,1014.77 L238.82,1015.50 L238.52,1016.23 L238.26,1016.97 L238.03,1017.70 L237.83,1018.43 L237.66,1019.17 L237.51,1019.90 L237.39,1020.63 L237.29,1021.37 L237.20,1022.10 L237.13,1022.83 L237.08,1023.57 L237.03,1024.30 L236.99,1025.03 L236.96,1025.77 L236.94,1026.50 L235.46,1026.50 L235.44,1025.77 L235.41,1025.03 L235.37,1024.30 L235.32,1023.57 L235.27,1022.83 L235.20,1022.10 L235.11,1021.37 L235.01,1020.63 L234.89,1019.90 L234.74,1019.17 L234.57,1018.43 L234.37,1017.70 L234.14,1016.97 L233.88,1016.23 L233.58,1015.50 L233.24,1014.77 L232.86,1014.03 L232.44,1013.30 L231.98,1012.57 L231.48,1011.83 L230.93,1011.10 L230.35,1010.37 L229.73,1009.63 L229.07,1008.90 L228.38,1008.17 L227.66,1007.43 L226.93,1006.70 L226.18,1005.97 L225.42,1005.23 L224.66,1004.50 L223.91,1003.77 L223.17,1003.03 L222.45,1002.30 L221.76,1001.57 L221.10,1000.83 L220.48,1000.10 L219.91,999.37 L219.39,998.63 L218.93,997.90 L218.52,997.17 L218.17,996.43 L217.87,995.70 L217.64,994.97 L217.46,994.23 L217.33,993.50 L217.25,992.77 L217.21,992.03 L217.20,991.30 L217.21,990.57 L217.25,989.85 L217.33,989.12 L217.46,988.39 L217.64,987.66 L217.87,986.94 L218.17,986.21 L218.52,985.48 L218.93,984.76 L219.39,984.03 L219.91,983.30 L220.48,982.57 L221.10,981.85 L221.76,981.12 L222.45,980.39 L223.17,979.67 L223.91,978.94 L224.66,978.21 L225.42,977.49 L226.18,976.76 L226.93,976.03 L227.66,975.30 L228.38,974.58 L229.07,973.85 L229.73,973.12 L230.35,972.40 L230.93,971.67 L231.48,970.94 L231.98,970.21 L232.44,969.49 L232.86,968.76 L233.24,968.03 L233.58,967.31 L233.88,966.58 L234.14,965.85 L234.37,965.12 L234.57,964.40 L234.74,963.67 L234.89,962.94 L235.01,962.22 L235.11,961.49 L235.20,960.76 L235.27,960.04 L235.32,959.31 L235.37,958.58 L235.41,957.85 L235.44,957.13 L235.46,956.40 Z" fill="none" stroke="#000" stroke-width="1.9" stroke-linejoin="round"/>
<line x1="217.2" y1="991.3" x2="255.2" y2="991.3" stroke="#000" stroke-width="1.8" stroke-linecap="butt"/>
<circle cx="159.5" cy="832.2" r="1.65" fill="none" stroke="#ff0000" stroke-width="1.5"/>
<circle cx="132.1" cy="842.9" r="1.65" fill="none" stroke="#ff0000" stroke-width="1.5"/>
<circle cx="126.8" cy="849.9" r="1.65" fill="none" stroke="#ff0000" stroke-width="1.5"/>
<circle cx="130.6" cy="850.5" r="1.65" fill="none" stroke="#ff0000" stroke-width="1.5"/>
<circle cx="155.5" cy="849.8" r="1.65" fill="none" stroke="#ff0000" stroke-width="1.5"/>
<circle cx="158.6" cy="849.3" r="1.65" fill="none" stroke="#ff0000" stroke-width="1.5"/>
<circle cx="142.3" cy="856.0" r="1.65" fill="none" stroke="#ff0000" stroke-width="1.5"/>
<circle cx="156.0" cy="856.9" r="1.65" fill="none" stroke="#ff0000" stroke-width="1.5"/>
<circle cx="132.1" cy="862.6" r="1.65" fill="none" stroke="#ff0000" stroke-width="1.5"/>
<circle cx="124.5" cy="868.8" r="1.65" fill="none" stroke="#ff0000" stroke-width="1.5"/>
<circle cx="148.1" cy="866.7" r="1.65" fill="none" stroke="#ff0000" stroke-width="1.5"/>
<circle cx="136.5" cy="872.1" r="1.65" fill="none" stroke="#ff0000" stroke-width="1.5"/>
<circle cx="141.7" cy="876.7" r="1.65" fill="none" stroke="#ff0000" stroke-width="1.5"/>
<circle cx="147.0" cy="880.5" r="1.65" fill="none" stroke="#ff0000" stroke-width="1.5"/>
<circle cx="150.5" cy="880.5" r="1.65" fill="none" stroke="#ff0000" stroke-width="1.5"/>
<circle cx="131.2" cy="884.3" r="1.65" fill="none" stroke="#ff0000" stroke-width="1.5"/>
<circle cx="134.7" cy="885.5" r="1.65" fill="none" stroke="#ff0000" stroke-width="1.5"/>
<circle cx="138.8" cy="883.4" r="1.65" fill="none" stroke="#ff0000" stroke-width="1.5"/>
<circle cx="144.6" cy="887.7" r="1.65" fill="none" stroke="#ff0000" stroke-width="1.5"/>
<circle cx="149.3" cy="884.6" r="1.65" fill="none" stroke="#ff0000" stroke-width="1.5"/>
<circle cx="150.5" cy="888.6" r="1.65" fill="none" stroke="#ff0000" stroke-width="1.5"/>
<circle cx="155.1" cy="893.1" r="1.65" fill="none" stroke="#ff0000" stroke-width="1.5"/>
<circle cx="158.6" cy="890.6" r="1.65" fill="none" stroke="#ff0000" stroke-width="1.5"/>
<circle cx="159.2" cy="894.1" r="1.65" fill="none" stroke="#ff0000" stroke-width="1.5"/>
<circle cx="124.0" cy="899.5" r="1.65" fill="none" stroke="#ff0000" stroke-width="1.5"/>
<circle cx="149.3" cy="899.7" r="1.65" fill="none" stroke="#ff0000" stroke-width="1.5"/>
<circle cx="152.5" cy="899.2" r="1.65" fill="none" stroke="#ff0000" stroke-width="1.5"/>
<circle cx="139.0" cy="903.8" r="1.65" fill="none" stroke="#ff0000" stroke-width="1.5"/>
<circle cx="154.3" cy="915.9" r="1.65" fill="none" stroke="#ff0000" stroke-width="1.5"/>
<circle cx="158.6" cy="917.3" r="1.65" fill="none" stroke="#ff0000" stroke-width="1.5"/>
<circle cx="236.6" cy="842.2" r="1.65" fill="none" stroke="#0000ff" stroke-width="1.5"/>
<circle cx="230.7" cy="871.2" r="1.65" fill="none" stroke="#0000ff" stroke-width="1.5"/>
<circle cx="231.9" cy="876.3" r="1.65" fill="none" stroke="#0000ff" stroke-width="1.5"/>
<circle cx="244.2" cy="883.5" r="1.65" fill="none" stroke="#0000ff" stroke-width="1.5"/>
<circle cx="227.6" cy="893.0" r="1.65" fill="none" stroke="#0000ff" stroke-width="1.5"/>
<circle cx="235.8" cy="898.8" r="1.65" fill="none" stroke="#0000ff" stroke-width="1.5"/>
<circle cx="248.2" cy="917.7" r="1.65" fill="none" stroke="#0000ff" stroke-width="1.5"/>
<circle cx="222.2" cy="965.3" r="1.65" fill="none" stroke="#0000ff" stroke-width="1.5"/>
<circle cx="234.7" cy="976.6" r="1.65" fill="none" stroke="#0000ff" stroke-width="1.5"/>
<circle cx="239.1" cy="975.0" r="1.65" fill="none" stroke="#0000ff" stroke-width="1.5"/>
<circle cx="242.6" cy="972.4" r="1.65" fill="none" stroke="#0000ff" stroke-width="1.5"/>
<circle cx="239.0" cy="989.1" r="1.65" fill="none" stroke="#0000ff" stroke-width="1.5"/>
<circle cx="221.3" cy="1000.1" r="1.65" fill="none" stroke="#0000ff" stroke-width="1.5"/>
<circle cx="224.2" cy="998.2" r="1.65" fill="none" stroke="#0000ff" stroke-width="1.5"/>
<circle cx="230.3" cy="999.6" r="1.65" fill="none" stroke="#0000ff" stroke-width="1.5"/>
<circle cx="238.6" cy="998.4" r="1.65" fill="none" stroke="#0000ff" stroke-width="1.5"/>
<circle cx="242.9" cy="997.6" r="1.65" fill="none" stroke="#0000ff" stroke-width="1.5"/>
<circle cx="241.5" cy="1012.4" r="1.65" fill="none" stroke="#0000ff" stroke-width="1.5"/>
<circle cx="222.4" cy="1028.2" r="1.65" fill="none" stroke="#0000ff" stroke-width="1.5"/>
<circle cx="225.6" cy="1031.3" r="1.65" fill="none" stroke="#0000ff" stroke-width="1.5"/>
<circle cx="234.5" cy="1032.8" r="1.65" fill="none" stroke="#0000ff" stroke-width="1.5"/>
<circle cx="218.9" cy="1038.7" r="1.65" fill="none" stroke="#0000ff" stroke-width="1.5"/>
<circle cx="222.8" cy="1038.3" r="1.65" fill="none" stroke="#0000ff" stroke-width="1.5"/>
<circle cx="220.1" cy="1044.8" r="1.65" fill="none" stroke="#0000ff" stroke-width="1.5"/>
<circle cx="226.3" cy="1043.8" r="1.65" fill="none" stroke="#0000ff" stroke-width="1.5"/>
<circle cx="218.6" cy="1056.6" r="1.65" fill="none" stroke="#0000ff" stroke-width="1.5"/>
<circle cx="231.9" cy="1064.1" r="1.65" fill="none" stroke="#0000ff" stroke-width="1.5"/>
<circle cx="221.2" cy="1080.2" r="1.65" fill="none" stroke="#0000ff" stroke-width="1.5"/>
<circle cx="219.8" cy="1084.4" r="1.65" fill="none" stroke="#0000ff" stroke-width="1.5"/>
<circle cx="235.0" cy="1118.5" r="1.65" fill="none" stroke="#0000ff" stroke-width="1.5"/>
<rect x="343.6" y="834.2" width="41.1" height="18.8" fill="#ff0000"/>
<rect x="343.6" y="859.7" width="41.1" height="18.8" fill="#0000ff"/>
<text x="392.0" y="849.5" text-anchor="start" style="font-size:14.65px;font-weight:bold;stroke:#000;stroke-width:0.3px;" fill="#000" >Dakar 41525 (African lineage)</text>
<text x="392.0" y="875.0" text-anchor="start" style="font-size:15.0px;font-weight:bold;stroke:#000;stroke-width:0.3px;" fill="#000" >PRVABC59 (Post-epidemic Asian lineage)</text>
</svg>
</body></html>
